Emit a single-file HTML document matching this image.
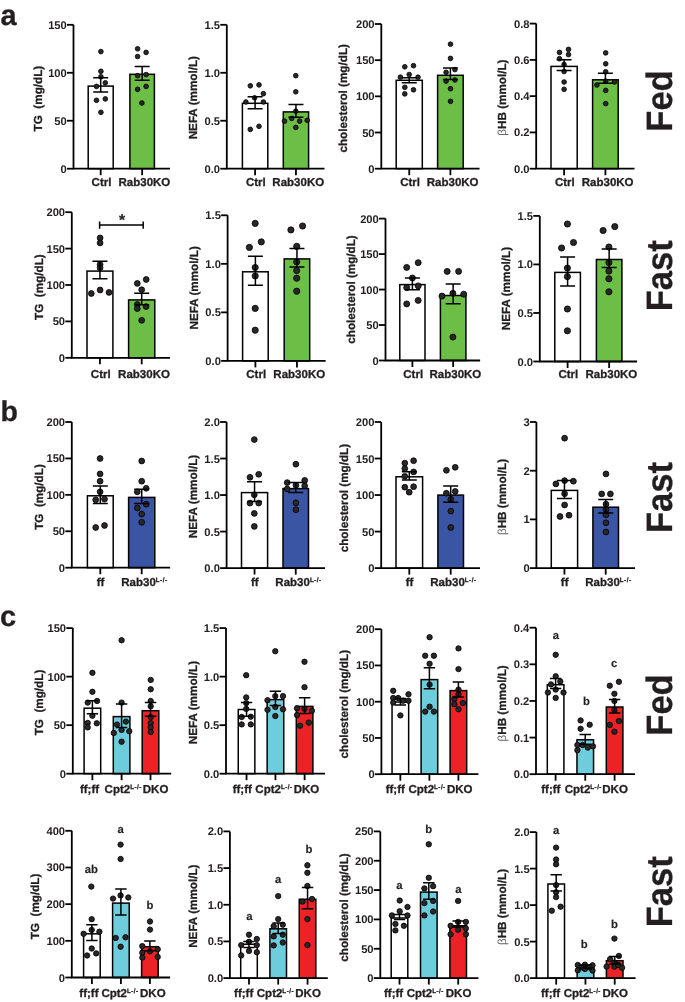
<!DOCTYPE html>
<html><head><meta charset="utf-8"><style>
html,body{margin:0;padding:0;background:#fff;}
svg{display:block;font-family:"Liberation Sans", sans-serif;text-rendering:geometricPrecision;will-change:transform;}
text{white-space:pre;stroke:#231f20;stroke-width:0.3px;}
</style></head><body>
<svg width="685" height="1002" viewBox="0 0 685 1002">
<rect width="685" height="1002" fill="#fff"/>
<rect x="88.2" y="86.1" width="25" height="82.6" fill="#ffffff" stroke="#000" stroke-width="1.5"/>
<rect x="129.9" y="74.3" width="24.5" height="94.4" fill="#6dbe46" stroke="#000" stroke-width="1.5"/>
<circle cx="100.9" cy="51.6" r="2.35" fill="#2b2627" stroke="#000" stroke-width="0.8"/>
<circle cx="100.9" cy="71.3" r="2.35" fill="#2b2627" stroke="#000" stroke-width="0.8"/>
<circle cx="100.9" cy="76.8" r="2.35" fill="#2b2627" stroke="#000" stroke-width="0.8"/>
<circle cx="105.3" cy="82.8" r="2.35" fill="#2b2627" stroke="#000" stroke-width="0.8"/>
<circle cx="96.5" cy="86.4" r="2.35" fill="#2b2627" stroke="#000" stroke-width="0.8"/>
<circle cx="96.5" cy="100.3" r="2.35" fill="#2b2627" stroke="#000" stroke-width="0.8"/>
<circle cx="105.3" cy="98.9" r="2.35" fill="#2b2627" stroke="#000" stroke-width="0.8"/>
<circle cx="100.9" cy="112.3" r="2.35" fill="#2b2627" stroke="#000" stroke-width="0.8"/>
<circle cx="137.6" cy="48.8" r="2.35" fill="#2b2627" stroke="#000" stroke-width="0.8"/>
<circle cx="146.1" cy="52.4" r="2.35" fill="#2b2627" stroke="#000" stroke-width="0.8"/>
<circle cx="137.6" cy="56.5" r="2.35" fill="#2b2627" stroke="#000" stroke-width="0.8"/>
<circle cx="137.6" cy="75.7" r="2.35" fill="#2b2627" stroke="#000" stroke-width="0.8"/>
<circle cx="146.1" cy="74.6" r="2.35" fill="#2b2627" stroke="#000" stroke-width="0.8"/>
<circle cx="146.1" cy="86.4" r="2.35" fill="#2b2627" stroke="#000" stroke-width="0.8"/>
<circle cx="137.6" cy="89.3" r="2.35" fill="#2b2627" stroke="#000" stroke-width="0.8"/>
<circle cx="141.9" cy="103" r="2.35" fill="#2b2627" stroke="#000" stroke-width="0.8"/>
<path d="M100.7 77.8V92.1M93.2 77.8H108.2M93.2 92.1H108.2" stroke="#000" stroke-width="1.5" fill="none"/>
<path d="M142.15 66.4V80.3M134.65 66.4H149.65M134.65 80.3H149.65" stroke="#000" stroke-width="1.5" fill="none"/>
<path d="M73.5 24.8V168.7H170" stroke="#000" stroke-width="1.8" fill="none"/>
<path d="M67 168.7H73.5" stroke="#000" stroke-width="1.8"/>
<text x="66.8" y="172.71" text-anchor="end" font-size="11.2" font-weight="bold" fill="#231f20" style="stroke:none">0</text>
<path d="M67 120.73H73.5" stroke="#000" stroke-width="1.8"/>
<text x="66.8" y="124.74" text-anchor="end" font-size="11.2" font-weight="bold" fill="#231f20" style="stroke:none">50</text>
<path d="M67 72.77H73.5" stroke="#000" stroke-width="1.8"/>
<text x="66.8" y="76.78" text-anchor="end" font-size="11.2" font-weight="bold" fill="#231f20" style="stroke:none">100</text>
<path d="M67 24.8H73.5" stroke="#000" stroke-width="1.8"/>
<text x="66.8" y="28.81" text-anchor="end" font-size="11.2" font-weight="bold" fill="#231f20" style="stroke:none">150</text>
<path d="M100.7 168.7V175.2" stroke="#000" stroke-width="1.8"/>
<path d="M142.15 168.7V175.2" stroke="#000" stroke-width="1.8"/>
<text x="101.5" y="186" text-anchor="middle" font-size="11.5" font-weight="bold" fill="#231f20">Ctrl</text>
<text x="144.45" y="186" text-anchor="middle" font-size="11.5" font-weight="bold" fill="#231f20">Rab30KO</text>
<text transform="translate(42.3 98.6) rotate(-90)" text-anchor="middle" font-size="11.7" font-weight="bold" fill="#231f20">TG&#160; (mg/dL)</text>
<rect x="242.4" y="103.3" width="25.4" height="65.4" fill="#ffffff" stroke="#000" stroke-width="1.5"/>
<rect x="283.3" y="111.9" width="25.3" height="56.8" fill="#6dbe46" stroke="#000" stroke-width="1.5"/>
<circle cx="250.3" cy="85.8" r="2.35" fill="#2b2627" stroke="#000" stroke-width="0.8"/>
<circle cx="259" cy="84.9" r="2.35" fill="#2b2627" stroke="#000" stroke-width="0.8"/>
<circle cx="263.4" cy="93.7" r="2.35" fill="#2b2627" stroke="#000" stroke-width="0.8"/>
<circle cx="254.6" cy="97.8" r="2.35" fill="#2b2627" stroke="#000" stroke-width="0.8"/>
<circle cx="245.9" cy="102" r="2.35" fill="#2b2627" stroke="#000" stroke-width="0.8"/>
<circle cx="263.4" cy="102" r="2.35" fill="#2b2627" stroke="#000" stroke-width="0.8"/>
<circle cx="250.3" cy="129.4" r="2.35" fill="#2b2627" stroke="#000" stroke-width="0.8"/>
<circle cx="259" cy="126.3" r="2.35" fill="#2b2627" stroke="#000" stroke-width="0.8"/>
<circle cx="295.8" cy="75.7" r="2.35" fill="#2b2627" stroke="#000" stroke-width="0.8"/>
<circle cx="295.8" cy="91.8" r="2.35" fill="#2b2627" stroke="#000" stroke-width="0.8"/>
<circle cx="295.8" cy="111.2" r="2.35" fill="#2b2627" stroke="#000" stroke-width="0.8"/>
<circle cx="291.7" cy="118.4" r="2.35" fill="#2b2627" stroke="#000" stroke-width="0.8"/>
<circle cx="299.6" cy="121.1" r="2.35" fill="#2b2627" stroke="#000" stroke-width="0.8"/>
<circle cx="284.5" cy="121.1" r="2.35" fill="#2b2627" stroke="#000" stroke-width="0.8"/>
<circle cx="307.2" cy="120.3" r="2.35" fill="#2b2627" stroke="#000" stroke-width="0.8"/>
<circle cx="295.8" cy="127.4" r="2.35" fill="#2b2627" stroke="#000" stroke-width="0.8"/>
<path d="M255.1 96.8V108.8M247.6 96.8H262.6M247.6 108.8H262.6" stroke="#000" stroke-width="1.5" fill="none"/>
<path d="M295.95 104.4V117.3M288.45 104.4H303.45M288.45 117.3H303.45" stroke="#000" stroke-width="1.5" fill="none"/>
<path d="M226.8 24.8V168.7H324.5" stroke="#000" stroke-width="1.8" fill="none"/>
<path d="M220.3 168.7H226.8" stroke="#000" stroke-width="1.8"/>
<text x="220.1" y="172.71" text-anchor="end" font-size="11.2" font-weight="bold" fill="#231f20" style="stroke:none">0.0</text>
<path d="M220.3 120.73H226.8" stroke="#000" stroke-width="1.8"/>
<text x="220.1" y="124.74" text-anchor="end" font-size="11.2" font-weight="bold" fill="#231f20" style="stroke:none">0.5</text>
<path d="M220.3 72.77H226.8" stroke="#000" stroke-width="1.8"/>
<text x="220.1" y="76.78" text-anchor="end" font-size="11.2" font-weight="bold" fill="#231f20" style="stroke:none">1.0</text>
<path d="M220.3 24.8H226.8" stroke="#000" stroke-width="1.8"/>
<text x="220.1" y="28.81" text-anchor="end" font-size="11.2" font-weight="bold" fill="#231f20" style="stroke:none">1.5</text>
<path d="M255.1 168.7V175.2" stroke="#000" stroke-width="1.8"/>
<path d="M295.95 168.7V175.2" stroke="#000" stroke-width="1.8"/>
<text x="255.9" y="186" text-anchor="middle" font-size="11.5" font-weight="bold" fill="#231f20">Ctrl</text>
<text x="298.25" y="186" text-anchor="middle" font-size="11.5" font-weight="bold" fill="#231f20">Rab30KO</text>
<text transform="translate(196.7 97.7) rotate(-90)" text-anchor="middle" font-size="11.7" font-weight="bold" fill="#231f20">NEFA (mmol/L)</text>
<rect x="396.2" y="80.3" width="26.1" height="88.4" fill="#ffffff" stroke="#000" stroke-width="1.5"/>
<rect x="437.6" y="75.3" width="25.6" height="93.4" fill="#6dbe46" stroke="#000" stroke-width="1.5"/>
<circle cx="404.8" cy="66.8" r="2.35" fill="#2b2627" stroke="#000" stroke-width="0.8"/>
<circle cx="413.5" cy="65.7" r="2.35" fill="#2b2627" stroke="#000" stroke-width="0.8"/>
<circle cx="409.2" cy="74.5" r="2.35" fill="#2b2627" stroke="#000" stroke-width="0.8"/>
<circle cx="400.4" cy="77.2" r="2.35" fill="#2b2627" stroke="#000" stroke-width="0.8"/>
<circle cx="418" cy="77.2" r="2.35" fill="#2b2627" stroke="#000" stroke-width="0.8"/>
<circle cx="404.8" cy="87.3" r="2.35" fill="#2b2627" stroke="#000" stroke-width="0.8"/>
<circle cx="413.5" cy="89.8" r="2.35" fill="#2b2627" stroke="#000" stroke-width="0.8"/>
<circle cx="404.8" cy="93.9" r="2.35" fill="#2b2627" stroke="#000" stroke-width="0.8"/>
<circle cx="450.5" cy="44.2" r="2.35" fill="#2b2627" stroke="#000" stroke-width="0.8"/>
<circle cx="450.5" cy="58.4" r="2.35" fill="#2b2627" stroke="#000" stroke-width="0.8"/>
<circle cx="454.9" cy="69.6" r="2.35" fill="#2b2627" stroke="#000" stroke-width="0.8"/>
<circle cx="446.1" cy="72.3" r="2.35" fill="#2b2627" stroke="#000" stroke-width="0.8"/>
<circle cx="446.1" cy="81.1" r="2.35" fill="#2b2627" stroke="#000" stroke-width="0.8"/>
<circle cx="454.9" cy="80" r="2.35" fill="#2b2627" stroke="#000" stroke-width="0.8"/>
<circle cx="450.5" cy="88.7" r="2.35" fill="#2b2627" stroke="#000" stroke-width="0.8"/>
<circle cx="450.5" cy="101.3" r="2.35" fill="#2b2627" stroke="#000" stroke-width="0.8"/>
<path d="M409.25 77.8V82.7M401.75 77.8H416.75M401.75 82.7H416.75" stroke="#000" stroke-width="1.5" fill="none"/>
<path d="M450.4 67.9V79.6M442.9 67.9H457.9M442.9 79.6H457.9" stroke="#000" stroke-width="1.5" fill="none"/>
<path d="M381.3 24V168.7H479.5" stroke="#000" stroke-width="1.8" fill="none"/>
<path d="M374.8 168.7H381.3" stroke="#000" stroke-width="1.8"/>
<text x="374.6" y="172.71" text-anchor="end" font-size="11.2" font-weight="bold" fill="#231f20" style="stroke:none">0</text>
<path d="M374.8 132.52H381.3" stroke="#000" stroke-width="1.8"/>
<text x="374.6" y="136.53" text-anchor="end" font-size="11.2" font-weight="bold" fill="#231f20" style="stroke:none">50</text>
<path d="M374.8 96.35H381.3" stroke="#000" stroke-width="1.8"/>
<text x="374.6" y="100.36" text-anchor="end" font-size="11.2" font-weight="bold" fill="#231f20" style="stroke:none">100</text>
<path d="M374.8 60.17H381.3" stroke="#000" stroke-width="1.8"/>
<text x="374.6" y="64.18" text-anchor="end" font-size="11.2" font-weight="bold" fill="#231f20" style="stroke:none">150</text>
<path d="M374.8 24H381.3" stroke="#000" stroke-width="1.8"/>
<text x="374.6" y="28.01" text-anchor="end" font-size="11.2" font-weight="bold" fill="#231f20" style="stroke:none">200</text>
<path d="M409.25 168.7V175.2" stroke="#000" stroke-width="1.8"/>
<path d="M450.4 168.7V175.2" stroke="#000" stroke-width="1.8"/>
<text x="410.05" y="186" text-anchor="middle" font-size="11.5" font-weight="bold" fill="#231f20">Ctrl</text>
<text x="452.7" y="186" text-anchor="middle" font-size="11.5" font-weight="bold" fill="#231f20">Rab30KO</text>
<text transform="translate(346.9 98.3) rotate(-90)" text-anchor="middle" font-size="11.7" font-weight="bold" fill="#231f20">cholesterol (mg/dL)</text>
<rect x="551" y="66.4" width="26.2" height="102.3" fill="#ffffff" stroke="#000" stroke-width="1.5"/>
<rect x="592.6" y="79.8" width="25.6" height="88.9" fill="#6dbe46" stroke="#000" stroke-width="1.5"/>
<circle cx="559.5" cy="52.4" r="2.35" fill="#2b2627" stroke="#000" stroke-width="0.8"/>
<circle cx="568.5" cy="49.4" r="2.35" fill="#2b2627" stroke="#000" stroke-width="0.8"/>
<circle cx="568.5" cy="54.6" r="2.35" fill="#2b2627" stroke="#000" stroke-width="0.8"/>
<circle cx="559.5" cy="58.7" r="2.35" fill="#2b2627" stroke="#000" stroke-width="0.8"/>
<circle cx="564.1" cy="64.5" r="2.35" fill="#2b2627" stroke="#000" stroke-width="0.8"/>
<circle cx="564.1" cy="71.5" r="2.35" fill="#2b2627" stroke="#000" stroke-width="0.8"/>
<circle cx="564.1" cy="82" r="2.35" fill="#2b2627" stroke="#000" stroke-width="0.8"/>
<circle cx="564.1" cy="89.3" r="2.35" fill="#2b2627" stroke="#000" stroke-width="0.8"/>
<circle cx="605.7" cy="52.9" r="2.35" fill="#2b2627" stroke="#000" stroke-width="0.8"/>
<circle cx="605.7" cy="63.8" r="2.35" fill="#2b2627" stroke="#000" stroke-width="0.8"/>
<circle cx="605.7" cy="71.8" r="2.35" fill="#2b2627" stroke="#000" stroke-width="0.8"/>
<circle cx="605.7" cy="81.1" r="2.35" fill="#2b2627" stroke="#000" stroke-width="0.8"/>
<circle cx="614.5" cy="82" r="2.35" fill="#2b2627" stroke="#000" stroke-width="0.8"/>
<circle cx="596.9" cy="85" r="2.35" fill="#2b2627" stroke="#000" stroke-width="0.8"/>
<circle cx="605.7" cy="90.4" r="2.35" fill="#2b2627" stroke="#000" stroke-width="0.8"/>
<circle cx="605.7" cy="103.6" r="2.35" fill="#2b2627" stroke="#000" stroke-width="0.8"/>
<path d="M564.1 59.8V70.4M556.6 59.8H571.6M556.6 70.4H571.6" stroke="#000" stroke-width="1.5" fill="none"/>
<path d="M605.4 73.2V83.3M597.9 73.2H612.9M597.9 83.3H612.9" stroke="#000" stroke-width="1.5" fill="none"/>
<path d="M536.2 23.6V168.7H634.5" stroke="#000" stroke-width="1.8" fill="none"/>
<path d="M529.7 168.7H536.2" stroke="#000" stroke-width="1.8"/>
<text x="529.5" y="172.71" text-anchor="end" font-size="11.2" font-weight="bold" fill="#231f20" style="stroke:none">0.0</text>
<path d="M529.7 132.42H536.2" stroke="#000" stroke-width="1.8"/>
<text x="529.5" y="136.43" text-anchor="end" font-size="11.2" font-weight="bold" fill="#231f20" style="stroke:none">0.2</text>
<path d="M529.7 96.15H536.2" stroke="#000" stroke-width="1.8"/>
<text x="529.5" y="100.16" text-anchor="end" font-size="11.2" font-weight="bold" fill="#231f20" style="stroke:none">0.4</text>
<path d="M529.7 59.88H536.2" stroke="#000" stroke-width="1.8"/>
<text x="529.5" y="63.88" text-anchor="end" font-size="11.2" font-weight="bold" fill="#231f20" style="stroke:none">0.6</text>
<path d="M529.7 23.6H536.2" stroke="#000" stroke-width="1.8"/>
<text x="529.5" y="27.61" text-anchor="end" font-size="11.2" font-weight="bold" fill="#231f20" style="stroke:none">0.8</text>
<path d="M564.1 168.7V175.2" stroke="#000" stroke-width="1.8"/>
<path d="M605.4 168.7V175.2" stroke="#000" stroke-width="1.8"/>
<text x="564.9" y="186" text-anchor="middle" font-size="11.5" font-weight="bold" fill="#231f20">Ctrl</text>
<text x="607.7" y="186" text-anchor="middle" font-size="11.5" font-weight="bold" fill="#231f20">Rab30KO</text>
<text transform="translate(505.9 97.6) rotate(-90)" text-anchor="middle" font-size="11.7" font-weight="bold" fill="#231f20"><tspan font-weight="normal" fill="#666" style="stroke:none">β</tspan>HB (mmol/L)</text>
<rect x="87" y="271.1" width="25.9" height="86.7" fill="#ffffff" stroke="#000" stroke-width="1.5"/>
<rect x="128.6" y="299.9" width="26.2" height="57.9" fill="#6dbe46" stroke="#000" stroke-width="1.5"/>
<circle cx="100.1" cy="237.9" r="2.9" fill="#2b2627" stroke="#000" stroke-width="0.8"/>
<circle cx="100.1" cy="242.9" r="2.9" fill="#2b2627" stroke="#000" stroke-width="0.8"/>
<circle cx="100.1" cy="264.5" r="2.9" fill="#2b2627" stroke="#000" stroke-width="0.8"/>
<circle cx="100.1" cy="267.8" r="2.9" fill="#2b2627" stroke="#000" stroke-width="0.8"/>
<circle cx="100.1" cy="290" r="2.9" fill="#2b2627" stroke="#000" stroke-width="0.8"/>
<circle cx="91.3" cy="293.5" r="2.9" fill="#2b2627" stroke="#000" stroke-width="0.8"/>
<circle cx="109" cy="292.4" r="2.9" fill="#2b2627" stroke="#000" stroke-width="0.8"/>
<circle cx="146.2" cy="279.5" r="2.9" fill="#2b2627" stroke="#000" stroke-width="0.8"/>
<circle cx="137.3" cy="283.4" r="2.9" fill="#2b2627" stroke="#000" stroke-width="0.8"/>
<circle cx="141.7" cy="289.7" r="2.9" fill="#2b2627" stroke="#000" stroke-width="0.8"/>
<circle cx="137.3" cy="304.5" r="2.9" fill="#2b2627" stroke="#000" stroke-width="0.8"/>
<circle cx="137.3" cy="308.6" r="2.9" fill="#2b2627" stroke="#000" stroke-width="0.8"/>
<circle cx="146.1" cy="306.6" r="2.9" fill="#2b2627" stroke="#000" stroke-width="0.8"/>
<circle cx="141.7" cy="320.3" r="2.9" fill="#2b2627" stroke="#000" stroke-width="0.8"/>
<path d="M99.95 261.2V278.7M92.45 261.2H107.45M92.45 278.7H107.45" stroke="#000" stroke-width="1.5" fill="none"/>
<path d="M141.7 293.3V304.8M134.2 293.3H149.2M134.2 304.8H149.2" stroke="#000" stroke-width="1.5" fill="none"/>
<path d="M71.8 212.2V357.8H170" stroke="#000" stroke-width="1.8" fill="none"/>
<path d="M65.3 357.8H71.8" stroke="#000" stroke-width="1.8"/>
<text x="65.1" y="361.81" text-anchor="end" font-size="11.2" font-weight="bold" fill="#231f20" style="stroke:none">0</text>
<path d="M65.3 321.4H71.8" stroke="#000" stroke-width="1.8"/>
<text x="65.1" y="325.41" text-anchor="end" font-size="11.2" font-weight="bold" fill="#231f20" style="stroke:none">50</text>
<path d="M65.3 285H71.8" stroke="#000" stroke-width="1.8"/>
<text x="65.1" y="289.01" text-anchor="end" font-size="11.2" font-weight="bold" fill="#231f20" style="stroke:none">100</text>
<path d="M65.3 248.6H71.8" stroke="#000" stroke-width="1.8"/>
<text x="65.1" y="252.61" text-anchor="end" font-size="11.2" font-weight="bold" fill="#231f20" style="stroke:none">150</text>
<path d="M65.3 212.2H71.8" stroke="#000" stroke-width="1.8"/>
<text x="65.1" y="216.21" text-anchor="end" font-size="11.2" font-weight="bold" fill="#231f20" style="stroke:none">200</text>
<path d="M99.95 357.8V364.3" stroke="#000" stroke-width="1.8"/>
<path d="M141.7 357.8V364.3" stroke="#000" stroke-width="1.8"/>
<text x="100.75" y="378" text-anchor="middle" font-size="11.5" font-weight="bold" fill="#231f20">Ctrl</text>
<text x="144" y="378" text-anchor="middle" font-size="11.5" font-weight="bold" fill="#231f20">Rab30KO</text>
<text transform="translate(42.8 287.1) rotate(-90)" text-anchor="middle" font-size="11.7" font-weight="bold" fill="#231f20">TG&#160; (mg/dL)</text>
<path d="M99.6 225.1H143.2M99.6 221.4V228.8M143.2 221.4V228.8" stroke="#000" stroke-width="1.5" fill="none"/>
<text x="122.1" y="225.3" text-anchor="middle" font-size="15.5" font-weight="bold" fill="#231f20">*</text>
<rect x="242.6" y="271.8" width="25.6" height="89.1" fill="#ffffff" stroke="#000" stroke-width="1.5"/>
<rect x="284.2" y="258.9" width="25.5" height="102" fill="#6dbe46" stroke="#000" stroke-width="1.5"/>
<circle cx="255.2" cy="223.4" r="3.1" fill="#2b2627" stroke="#000" stroke-width="0.8"/>
<circle cx="261.3" cy="241.9" r="3.1" fill="#2b2627" stroke="#000" stroke-width="0.8"/>
<circle cx="249.4" cy="247.4" r="3.1" fill="#2b2627" stroke="#000" stroke-width="0.8"/>
<circle cx="255.2" cy="267.5" r="3.1" fill="#2b2627" stroke="#000" stroke-width="0.8"/>
<circle cx="255.2" cy="276" r="3.1" fill="#2b2627" stroke="#000" stroke-width="0.8"/>
<circle cx="255.2" cy="308.4" r="3.1" fill="#2b2627" stroke="#000" stroke-width="0.8"/>
<circle cx="255.2" cy="330.2" r="3.1" fill="#2b2627" stroke="#000" stroke-width="0.8"/>
<circle cx="302.6" cy="226" r="3.1" fill="#2b2627" stroke="#000" stroke-width="0.8"/>
<circle cx="290.9" cy="229.9" r="3.1" fill="#2b2627" stroke="#000" stroke-width="0.8"/>
<circle cx="296.7" cy="246.4" r="3.1" fill="#2b2627" stroke="#000" stroke-width="0.8"/>
<circle cx="296.7" cy="262" r="3.1" fill="#2b2627" stroke="#000" stroke-width="0.8"/>
<circle cx="296.7" cy="270.5" r="3.1" fill="#2b2627" stroke="#000" stroke-width="0.8"/>
<circle cx="296.7" cy="278.2" r="3.1" fill="#2b2627" stroke="#000" stroke-width="0.8"/>
<circle cx="296.7" cy="291.2" r="3.1" fill="#2b2627" stroke="#000" stroke-width="0.8"/>
<path d="M255.4 256.3V285.3M247.9 256.3H262.9M247.9 285.3H262.9" stroke="#000" stroke-width="1.5" fill="none"/>
<path d="M296.95 248.5V266.9M289.45 248.5H304.45M289.45 266.9H304.45" stroke="#000" stroke-width="1.5" fill="none"/>
<path d="M227.6 215.3V360.9H325.6" stroke="#000" stroke-width="1.8" fill="none"/>
<path d="M221.1 360.9H227.6" stroke="#000" stroke-width="1.8"/>
<text x="220.9" y="364.91" text-anchor="end" font-size="11.2" font-weight="bold" fill="#231f20" style="stroke:none">0.0</text>
<path d="M221.1 312.37H227.6" stroke="#000" stroke-width="1.8"/>
<text x="220.9" y="316.38" text-anchor="end" font-size="11.2" font-weight="bold" fill="#231f20" style="stroke:none">0.5</text>
<path d="M221.1 263.83H227.6" stroke="#000" stroke-width="1.8"/>
<text x="220.9" y="267.84" text-anchor="end" font-size="11.2" font-weight="bold" fill="#231f20" style="stroke:none">1.0</text>
<path d="M221.1 215.3H227.6" stroke="#000" stroke-width="1.8"/>
<text x="220.9" y="219.31" text-anchor="end" font-size="11.2" font-weight="bold" fill="#231f20" style="stroke:none">1.5</text>
<path d="M255.4 360.9V367.4" stroke="#000" stroke-width="1.8"/>
<path d="M296.95 360.9V367.4" stroke="#000" stroke-width="1.8"/>
<text x="256.2" y="378" text-anchor="middle" font-size="11.5" font-weight="bold" fill="#231f20">Ctrl</text>
<text x="299.25" y="378" text-anchor="middle" font-size="11.5" font-weight="bold" fill="#231f20">Rab30KO</text>
<text transform="translate(197.8 287.9) rotate(-90)" text-anchor="middle" font-size="11.7" font-weight="bold" fill="#231f20">NEFA (mmol/L)</text>
<rect x="399.8" y="284.6" width="25.2" height="75.9" fill="#ffffff" stroke="#000" stroke-width="1.5"/>
<rect x="440.4" y="295.5" width="25.5" height="65" fill="#6dbe46" stroke="#000" stroke-width="1.5"/>
<circle cx="418.2" cy="262.7" r="3" fill="#2b2627" stroke="#000" stroke-width="0.8"/>
<circle cx="406.7" cy="267.4" r="3" fill="#2b2627" stroke="#000" stroke-width="0.8"/>
<circle cx="412.4" cy="278" r="3" fill="#2b2627" stroke="#000" stroke-width="0.8"/>
<circle cx="406.7" cy="287.6" r="3" fill="#2b2627" stroke="#000" stroke-width="0.8"/>
<circle cx="418.2" cy="285.9" r="3" fill="#2b2627" stroke="#000" stroke-width="0.8"/>
<circle cx="418.2" cy="300.4" r="3" fill="#2b2627" stroke="#000" stroke-width="0.8"/>
<circle cx="406.7" cy="303.9" r="3" fill="#2b2627" stroke="#000" stroke-width="0.8"/>
<circle cx="447.2" cy="271.4" r="3" fill="#2b2627" stroke="#000" stroke-width="0.8"/>
<circle cx="458.6" cy="271.4" r="3" fill="#2b2627" stroke="#000" stroke-width="0.8"/>
<circle cx="452.9" cy="293.3" r="3" fill="#2b2627" stroke="#000" stroke-width="0.8"/>
<circle cx="442" cy="296.1" r="3" fill="#2b2627" stroke="#000" stroke-width="0.8"/>
<circle cx="463.7" cy="294.2" r="3" fill="#2b2627" stroke="#000" stroke-width="0.8"/>
<circle cx="452.9" cy="337.1" r="3" fill="#2b2627" stroke="#000" stroke-width="0.8"/>
<path d="M412.4 278V289.8M404.9 278H419.9M404.9 289.8H419.9" stroke="#000" stroke-width="1.5" fill="none"/>
<path d="M453.15 284V303.7M445.65 284H460.65M445.65 303.7H460.65" stroke="#000" stroke-width="1.5" fill="none"/>
<path d="M385.5 218.6V360.5H480.1" stroke="#000" stroke-width="1.8" fill="none"/>
<path d="M379 360.5H385.5" stroke="#000" stroke-width="1.8"/>
<text x="378.8" y="364.51" text-anchor="end" font-size="11.2" font-weight="bold" fill="#231f20" style="stroke:none">0</text>
<path d="M379 325.02H385.5" stroke="#000" stroke-width="1.8"/>
<text x="378.8" y="329.03" text-anchor="end" font-size="11.2" font-weight="bold" fill="#231f20" style="stroke:none">50</text>
<path d="M379 289.55H385.5" stroke="#000" stroke-width="1.8"/>
<text x="378.8" y="293.56" text-anchor="end" font-size="11.2" font-weight="bold" fill="#231f20" style="stroke:none">100</text>
<path d="M379 254.07H385.5" stroke="#000" stroke-width="1.8"/>
<text x="378.8" y="258.08" text-anchor="end" font-size="11.2" font-weight="bold" fill="#231f20" style="stroke:none">150</text>
<path d="M379 218.6H385.5" stroke="#000" stroke-width="1.8"/>
<text x="378.8" y="222.61" text-anchor="end" font-size="11.2" font-weight="bold" fill="#231f20" style="stroke:none">200</text>
<path d="M412.4 360.5V367" stroke="#000" stroke-width="1.8"/>
<path d="M453.15 360.5V367" stroke="#000" stroke-width="1.8"/>
<text x="413.2" y="378" text-anchor="middle" font-size="11.5" font-weight="bold" fill="#231f20">Ctrl</text>
<text x="455.45" y="378" text-anchor="middle" font-size="11.5" font-weight="bold" fill="#231f20">Rab30KO</text>
<text transform="translate(354.5 289.5) rotate(-90)" text-anchor="middle" font-size="11.7" font-weight="bold" fill="#231f20">cholesterol (mg/dL)</text>
<rect x="554.8" y="272.4" width="25.6" height="89.1" fill="#ffffff" stroke="#000" stroke-width="1.5"/>
<rect x="596.4" y="259.5" width="25.5" height="102" fill="#6dbe46" stroke="#000" stroke-width="1.5"/>
<circle cx="567.4" cy="224" r="3.1" fill="#2b2627" stroke="#000" stroke-width="0.8"/>
<circle cx="573.5" cy="242.5" r="3.1" fill="#2b2627" stroke="#000" stroke-width="0.8"/>
<circle cx="561.6" cy="248" r="3.1" fill="#2b2627" stroke="#000" stroke-width="0.8"/>
<circle cx="567.4" cy="268.1" r="3.1" fill="#2b2627" stroke="#000" stroke-width="0.8"/>
<circle cx="567.4" cy="276.6" r="3.1" fill="#2b2627" stroke="#000" stroke-width="0.8"/>
<circle cx="567.4" cy="309" r="3.1" fill="#2b2627" stroke="#000" stroke-width="0.8"/>
<circle cx="567.4" cy="330.8" r="3.1" fill="#2b2627" stroke="#000" stroke-width="0.8"/>
<circle cx="614.8" cy="226.6" r="3.1" fill="#2b2627" stroke="#000" stroke-width="0.8"/>
<circle cx="603.1" cy="230.5" r="3.1" fill="#2b2627" stroke="#000" stroke-width="0.8"/>
<circle cx="608.9" cy="247" r="3.1" fill="#2b2627" stroke="#000" stroke-width="0.8"/>
<circle cx="608.9" cy="262.6" r="3.1" fill="#2b2627" stroke="#000" stroke-width="0.8"/>
<circle cx="608.9" cy="271.1" r="3.1" fill="#2b2627" stroke="#000" stroke-width="0.8"/>
<circle cx="608.9" cy="278.8" r="3.1" fill="#2b2627" stroke="#000" stroke-width="0.8"/>
<circle cx="608.9" cy="291.8" r="3.1" fill="#2b2627" stroke="#000" stroke-width="0.8"/>
<path d="M567.6 256.9V285.9M560.1 256.9H575.1M560.1 285.9H575.1" stroke="#000" stroke-width="1.5" fill="none"/>
<path d="M609.15 249.1V267.5M601.65 249.1H616.65M601.65 267.5H616.65" stroke="#000" stroke-width="1.5" fill="none"/>
<path d="M539.8 215.9V361.5H637.1" stroke="#000" stroke-width="1.8" fill="none"/>
<path d="M533.3 361.5H539.8" stroke="#000" stroke-width="1.8"/>
<text x="533.1" y="365.51" text-anchor="end" font-size="11.2" font-weight="bold" fill="#231f20" style="stroke:none">0.0</text>
<path d="M533.3 312.97H539.8" stroke="#000" stroke-width="1.8"/>
<text x="533.1" y="316.98" text-anchor="end" font-size="11.2" font-weight="bold" fill="#231f20" style="stroke:none">0.5</text>
<path d="M533.3 264.43H539.8" stroke="#000" stroke-width="1.8"/>
<text x="533.1" y="268.44" text-anchor="end" font-size="11.2" font-weight="bold" fill="#231f20" style="stroke:none">1.0</text>
<path d="M533.3 215.9H539.8" stroke="#000" stroke-width="1.8"/>
<text x="533.1" y="219.91" text-anchor="end" font-size="11.2" font-weight="bold" fill="#231f20" style="stroke:none">1.5</text>
<path d="M567.6 361.5V368" stroke="#000" stroke-width="1.8"/>
<path d="M609.15 361.5V368" stroke="#000" stroke-width="1.8"/>
<text x="568.4" y="378" text-anchor="middle" font-size="11.5" font-weight="bold" fill="#231f20">Ctrl</text>
<text x="611.45" y="378" text-anchor="middle" font-size="11.5" font-weight="bold" fill="#231f20">Rab30KO</text>
<text transform="translate(510 288.6) rotate(-90)" text-anchor="middle" font-size="11.7" font-weight="bold" fill="#231f20">NEFA (mmol/L)</text>
<rect x="87.4" y="495.8" width="25.8" height="71.9" fill="#ffffff" stroke="#000" stroke-width="1.5"/>
<rect x="128.6" y="497.4" width="26.2" height="70.3" fill="#3a55a4" stroke="#000" stroke-width="1.5"/>
<circle cx="100.1" cy="458.5" r="2.9" fill="#2b2627" stroke="#000" stroke-width="0.8"/>
<circle cx="100.1" cy="473.9" r="2.9" fill="#2b2627" stroke="#000" stroke-width="0.8"/>
<circle cx="100.1" cy="481.2" r="2.9" fill="#2b2627" stroke="#000" stroke-width="0.8"/>
<circle cx="100.1" cy="491.8" r="2.9" fill="#2b2627" stroke="#000" stroke-width="0.8"/>
<circle cx="95.7" cy="499.8" r="2.9" fill="#2b2627" stroke="#000" stroke-width="0.8"/>
<circle cx="104.5" cy="499.1" r="2.9" fill="#2b2627" stroke="#000" stroke-width="0.8"/>
<circle cx="95.7" cy="527.5" r="2.9" fill="#2b2627" stroke="#000" stroke-width="0.8"/>
<circle cx="104.5" cy="525.5" r="2.9" fill="#2b2627" stroke="#000" stroke-width="0.8"/>
<circle cx="141.7" cy="461" r="2.9" fill="#2b2627" stroke="#000" stroke-width="0.8"/>
<circle cx="141.7" cy="481.2" r="2.9" fill="#2b2627" stroke="#000" stroke-width="0.8"/>
<circle cx="146.2" cy="488.3" r="2.9" fill="#2b2627" stroke="#000" stroke-width="0.8"/>
<circle cx="137.3" cy="491.8" r="2.9" fill="#2b2627" stroke="#000" stroke-width="0.8"/>
<circle cx="146.2" cy="504.2" r="2.9" fill="#2b2627" stroke="#000" stroke-width="0.8"/>
<circle cx="137.3" cy="508" r="2.9" fill="#2b2627" stroke="#000" stroke-width="0.8"/>
<circle cx="141.7" cy="514.1" r="2.9" fill="#2b2627" stroke="#000" stroke-width="0.8"/>
<circle cx="141.7" cy="522.3" r="2.9" fill="#2b2627" stroke="#000" stroke-width="0.8"/>
<path d="M100.3 486.1V503.4M92.8 486.1H107.8M92.8 503.4H107.8" stroke="#000" stroke-width="1.5" fill="none"/>
<path d="M141.7 489.2V503.4M134.2 489.2H149.2M134.2 503.4H149.2" stroke="#000" stroke-width="1.5" fill="none"/>
<path d="M71.8 422V567.7H170.1" stroke="#000" stroke-width="1.8" fill="none"/>
<path d="M65.3 567.7H71.8" stroke="#000" stroke-width="1.8"/>
<text x="65.1" y="571.71" text-anchor="end" font-size="11.2" font-weight="bold" fill="#231f20" style="stroke:none">0</text>
<path d="M65.3 531.28H71.8" stroke="#000" stroke-width="1.8"/>
<text x="65.1" y="535.28" text-anchor="end" font-size="11.2" font-weight="bold" fill="#231f20" style="stroke:none">50</text>
<path d="M65.3 494.85H71.8" stroke="#000" stroke-width="1.8"/>
<text x="65.1" y="498.86" text-anchor="end" font-size="11.2" font-weight="bold" fill="#231f20" style="stroke:none">100</text>
<path d="M65.3 458.43H71.8" stroke="#000" stroke-width="1.8"/>
<text x="65.1" y="462.43" text-anchor="end" font-size="11.2" font-weight="bold" fill="#231f20" style="stroke:none">150</text>
<path d="M65.3 422H71.8" stroke="#000" stroke-width="1.8"/>
<text x="65.1" y="426.01" text-anchor="end" font-size="11.2" font-weight="bold" fill="#231f20" style="stroke:none">200</text>
<path d="M100.3 567.7V574.2" stroke="#000" stroke-width="1.8"/>
<path d="M141.7 567.7V574.2" stroke="#000" stroke-width="1.8"/>
<text x="100.5" y="586" text-anchor="middle" font-size="11.5" font-weight="bold" fill="#231f20">ff</text>
<text x="121.3" y="586" text-anchor="start" font-size="11.5" font-weight="bold" fill="#231f20">Rab30<tspan font-size="6.2" dy="-3.9" letter-spacing="0.5">L-/-</tspan></text>
<text transform="translate(42.8 497) rotate(-90)" text-anchor="middle" font-size="11.7" font-weight="bold" fill="#231f20">TG&#160; (mg/dL)</text>
<rect x="241.5" y="492.6" width="26.1" height="75.5" fill="#ffffff" stroke="#000" stroke-width="1.5"/>
<rect x="283" y="488.6" width="25.5" height="79.5" fill="#3a55a4" stroke="#000" stroke-width="1.5"/>
<circle cx="254.3" cy="439.6" r="2.9" fill="#2b2627" stroke="#000" stroke-width="0.8"/>
<circle cx="258.7" cy="474.3" r="2.9" fill="#2b2627" stroke="#000" stroke-width="0.8"/>
<circle cx="250" cy="477.3" r="2.9" fill="#2b2627" stroke="#000" stroke-width="0.8"/>
<circle cx="254.3" cy="494.8" r="2.9" fill="#2b2627" stroke="#000" stroke-width="0.8"/>
<circle cx="250" cy="503.1" r="2.9" fill="#2b2627" stroke="#000" stroke-width="0.8"/>
<circle cx="258.7" cy="503.1" r="2.9" fill="#2b2627" stroke="#000" stroke-width="0.8"/>
<circle cx="254.3" cy="513.4" r="2.9" fill="#2b2627" stroke="#000" stroke-width="0.8"/>
<circle cx="254.3" cy="526.4" r="2.9" fill="#2b2627" stroke="#000" stroke-width="0.8"/>
<circle cx="295.9" cy="464.2" r="2.9" fill="#2b2627" stroke="#000" stroke-width="0.8"/>
<circle cx="287.2" cy="482.6" r="2.9" fill="#2b2627" stroke="#000" stroke-width="0.8"/>
<circle cx="304.7" cy="480.4" r="2.9" fill="#2b2627" stroke="#000" stroke-width="0.8"/>
<circle cx="295.9" cy="485.3" r="2.9" fill="#2b2627" stroke="#000" stroke-width="0.8"/>
<circle cx="287.2" cy="488.9" r="2.9" fill="#2b2627" stroke="#000" stroke-width="0.8"/>
<circle cx="304.7" cy="485.8" r="2.9" fill="#2b2627" stroke="#000" stroke-width="0.8"/>
<circle cx="295.9" cy="502.8" r="2.9" fill="#2b2627" stroke="#000" stroke-width="0.8"/>
<circle cx="295.9" cy="509.7" r="2.9" fill="#2b2627" stroke="#000" stroke-width="0.8"/>
<path d="M254.55 481.7V501.4M247.05 481.7H262.05M247.05 501.4H262.05" stroke="#000" stroke-width="1.5" fill="none"/>
<path d="M295.75 482.6V492.6M288.25 482.6H303.25M288.25 492.6H303.25" stroke="#000" stroke-width="1.5" fill="none"/>
<path d="M226.6 422V568.1H325" stroke="#000" stroke-width="1.8" fill="none"/>
<path d="M220.1 568.1H226.6" stroke="#000" stroke-width="1.8"/>
<text x="219.9" y="572.11" text-anchor="end" font-size="11.2" font-weight="bold" fill="#231f20" style="stroke:none">0.0</text>
<path d="M220.1 531.58H226.6" stroke="#000" stroke-width="1.8"/>
<text x="219.9" y="535.58" text-anchor="end" font-size="11.2" font-weight="bold" fill="#231f20" style="stroke:none">0.5</text>
<path d="M220.1 495.05H226.6" stroke="#000" stroke-width="1.8"/>
<text x="219.9" y="499.06" text-anchor="end" font-size="11.2" font-weight="bold" fill="#231f20" style="stroke:none">1.0</text>
<path d="M220.1 458.52H226.6" stroke="#000" stroke-width="1.8"/>
<text x="219.9" y="462.53" text-anchor="end" font-size="11.2" font-weight="bold" fill="#231f20" style="stroke:none">1.5</text>
<path d="M220.1 422H226.6" stroke="#000" stroke-width="1.8"/>
<text x="219.9" y="426.01" text-anchor="end" font-size="11.2" font-weight="bold" fill="#231f20" style="stroke:none">2.0</text>
<path d="M254.55 568.1V574.6" stroke="#000" stroke-width="1.8"/>
<path d="M295.75 568.1V574.6" stroke="#000" stroke-width="1.8"/>
<text x="254.75" y="586" text-anchor="middle" font-size="11.5" font-weight="bold" fill="#231f20">ff</text>
<text x="275.35" y="586" text-anchor="start" font-size="11.5" font-weight="bold" fill="#231f20">Rab30<tspan font-size="6.2" dy="-3.9" letter-spacing="0.5">L-/-</tspan></text>
<text transform="translate(196.7 496.5) rotate(-90)" text-anchor="middle" font-size="11.7" font-weight="bold" fill="#231f20">NEFA (mmol/L)</text>
<rect x="396" y="476.8" width="26.6" height="91.3" fill="#ffffff" stroke="#000" stroke-width="1.5"/>
<rect x="437.9" y="495.1" width="25.6" height="73" fill="#3a55a4" stroke="#000" stroke-width="1.5"/>
<circle cx="413.6" cy="460.7" r="2.9" fill="#2b2627" stroke="#000" stroke-width="0.8"/>
<circle cx="404.8" cy="463.1" r="2.9" fill="#2b2627" stroke="#000" stroke-width="0.8"/>
<circle cx="404.8" cy="468.6" r="2.9" fill="#2b2627" stroke="#000" stroke-width="0.8"/>
<circle cx="413.6" cy="471.9" r="2.9" fill="#2b2627" stroke="#000" stroke-width="0.8"/>
<circle cx="404.8" cy="476.3" r="2.9" fill="#2b2627" stroke="#000" stroke-width="0.8"/>
<circle cx="404.8" cy="487.2" r="2.9" fill="#2b2627" stroke="#000" stroke-width="0.8"/>
<circle cx="413.6" cy="486.7" r="2.9" fill="#2b2627" stroke="#000" stroke-width="0.8"/>
<circle cx="409.2" cy="492.2" r="2.9" fill="#2b2627" stroke="#000" stroke-width="0.8"/>
<circle cx="455.2" cy="467.3" r="2.9" fill="#2b2627" stroke="#000" stroke-width="0.8"/>
<circle cx="446.4" cy="470.3" r="2.9" fill="#2b2627" stroke="#000" stroke-width="0.8"/>
<circle cx="455.2" cy="491.4" r="2.9" fill="#2b2627" stroke="#000" stroke-width="0.8"/>
<circle cx="446.4" cy="493.2" r="2.9" fill="#2b2627" stroke="#000" stroke-width="0.8"/>
<circle cx="450.8" cy="499.3" r="2.9" fill="#2b2627" stroke="#000" stroke-width="0.8"/>
<circle cx="450.8" cy="511.1" r="2.9" fill="#2b2627" stroke="#000" stroke-width="0.8"/>
<circle cx="450.8" cy="527.5" r="2.9" fill="#2b2627" stroke="#000" stroke-width="0.8"/>
<path d="M409.3 471.7V480.1M401.8 471.7H416.8M401.8 480.1H416.8" stroke="#000" stroke-width="1.5" fill="none"/>
<path d="M450.7 486.1V502.3M443.2 486.1H458.2M443.2 502.3H458.2" stroke="#000" stroke-width="1.5" fill="none"/>
<path d="M381.2 422V568.1H480" stroke="#000" stroke-width="1.8" fill="none"/>
<path d="M374.7 568.1H381.2" stroke="#000" stroke-width="1.8"/>
<text x="374.5" y="572.11" text-anchor="end" font-size="11.2" font-weight="bold" fill="#231f20" style="stroke:none">0</text>
<path d="M374.7 531.58H381.2" stroke="#000" stroke-width="1.8"/>
<text x="374.5" y="535.58" text-anchor="end" font-size="11.2" font-weight="bold" fill="#231f20" style="stroke:none">50</text>
<path d="M374.7 495.05H381.2" stroke="#000" stroke-width="1.8"/>
<text x="374.5" y="499.06" text-anchor="end" font-size="11.2" font-weight="bold" fill="#231f20" style="stroke:none">100</text>
<path d="M374.7 458.52H381.2" stroke="#000" stroke-width="1.8"/>
<text x="374.5" y="462.53" text-anchor="end" font-size="11.2" font-weight="bold" fill="#231f20" style="stroke:none">150</text>
<path d="M374.7 422H381.2" stroke="#000" stroke-width="1.8"/>
<text x="374.5" y="426.01" text-anchor="end" font-size="11.2" font-weight="bold" fill="#231f20" style="stroke:none">200</text>
<path d="M409.3 568.1V574.6" stroke="#000" stroke-width="1.8"/>
<path d="M450.7 568.1V574.6" stroke="#000" stroke-width="1.8"/>
<text x="409.5" y="586" text-anchor="middle" font-size="11.5" font-weight="bold" fill="#231f20">ff</text>
<text x="430.3" y="586" text-anchor="start" font-size="11.5" font-weight="bold" fill="#231f20">Rab30<tspan font-size="6.2" dy="-3.9" letter-spacing="0.5">L-/-</tspan></text>
<text transform="translate(348 498.1) rotate(-90)" text-anchor="middle" font-size="11.7" font-weight="bold" fill="#231f20">cholesterol (mg/dL)</text>
<rect x="551.3" y="490.4" width="26.3" height="77.7" fill="#ffffff" stroke="#000" stroke-width="1.5"/>
<rect x="592.9" y="507.2" width="25.6" height="60.9" fill="#3a55a4" stroke="#000" stroke-width="1.5"/>
<circle cx="564.6" cy="438.2" r="2.9" fill="#2b2627" stroke="#000" stroke-width="0.8"/>
<circle cx="564.6" cy="480.6" r="2.9" fill="#2b2627" stroke="#000" stroke-width="0.8"/>
<circle cx="555.9" cy="483.9" r="2.9" fill="#2b2627" stroke="#000" stroke-width="0.8"/>
<circle cx="573.4" cy="481.2" r="2.9" fill="#2b2627" stroke="#000" stroke-width="0.8"/>
<circle cx="564.6" cy="493.7" r="2.9" fill="#2b2627" stroke="#000" stroke-width="0.8"/>
<circle cx="564.6" cy="505" r="2.9" fill="#2b2627" stroke="#000" stroke-width="0.8"/>
<circle cx="560" cy="516.5" r="2.9" fill="#2b2627" stroke="#000" stroke-width="0.8"/>
<circle cx="569" cy="515.2" r="2.9" fill="#2b2627" stroke="#000" stroke-width="0.8"/>
<circle cx="606" cy="473.9" r="2.9" fill="#2b2627" stroke="#000" stroke-width="0.8"/>
<circle cx="601.7" cy="493.9" r="2.9" fill="#2b2627" stroke="#000" stroke-width="0.8"/>
<circle cx="610.4" cy="493.9" r="2.9" fill="#2b2627" stroke="#000" stroke-width="0.8"/>
<circle cx="606" cy="504.2" r="2.9" fill="#2b2627" stroke="#000" stroke-width="0.8"/>
<circle cx="606" cy="509.6" r="2.9" fill="#2b2627" stroke="#000" stroke-width="0.8"/>
<circle cx="606" cy="514.7" r="2.9" fill="#2b2627" stroke="#000" stroke-width="0.8"/>
<circle cx="606" cy="522.8" r="2.9" fill="#2b2627" stroke="#000" stroke-width="0.8"/>
<circle cx="606" cy="532" r="2.9" fill="#2b2627" stroke="#000" stroke-width="0.8"/>
<path d="M564.45 480.4V498.4M556.95 480.4H571.95M556.95 498.4H571.95" stroke="#000" stroke-width="1.5" fill="none"/>
<path d="M605.7 499.5V513M598.2 499.5H613.2M598.2 513H613.2" stroke="#000" stroke-width="1.5" fill="none"/>
<path d="M536.4 422V568.1H635" stroke="#000" stroke-width="1.8" fill="none"/>
<path d="M529.9 568.1H536.4" stroke="#000" stroke-width="1.8"/>
<text x="529.7" y="572.11" text-anchor="end" font-size="11.2" font-weight="bold" fill="#231f20" style="stroke:none">0</text>
<path d="M529.9 519.4H536.4" stroke="#000" stroke-width="1.8"/>
<text x="529.7" y="523.41" text-anchor="end" font-size="11.2" font-weight="bold" fill="#231f20" style="stroke:none">1</text>
<path d="M529.9 470.7H536.4" stroke="#000" stroke-width="1.8"/>
<text x="529.7" y="474.71" text-anchor="end" font-size="11.2" font-weight="bold" fill="#231f20" style="stroke:none">2</text>
<path d="M529.9 422H536.4" stroke="#000" stroke-width="1.8"/>
<text x="529.7" y="426.01" text-anchor="end" font-size="11.2" font-weight="bold" fill="#231f20" style="stroke:none">3</text>
<path d="M564.45 568.1V574.6" stroke="#000" stroke-width="1.8"/>
<path d="M605.7 568.1V574.6" stroke="#000" stroke-width="1.8"/>
<text x="564.65" y="586" text-anchor="middle" font-size="11.5" font-weight="bold" fill="#231f20">ff</text>
<text x="585.3" y="586" text-anchor="start" font-size="11.5" font-weight="bold" fill="#231f20">Rab30<tspan font-size="6.2" dy="-3.9" letter-spacing="0.5">L-/-</tspan></text>
<text transform="translate(505.9 497) rotate(-90)" text-anchor="middle" font-size="11.7" font-weight="bold" fill="#231f20"><tspan font-weight="normal" fill="#666" style="stroke:none">β</tspan>HB (mmol/L)</text>
<rect x="84.1" y="708.2" width="16.6" height="65.5" fill="#ffffff" stroke="#000" stroke-width="1.5"/>
<rect x="113.3" y="716.6" width="16.6" height="57.1" fill="#6ecddd" stroke="#000" stroke-width="1.5"/>
<rect x="142.2" y="710.7" width="16.6" height="63" fill="#ec2227" stroke="#000" stroke-width="1.5"/>
<circle cx="92.4" cy="672.8" r="2.7" fill="#2b2627" stroke="#000" stroke-width="0.8"/>
<circle cx="92.4" cy="691.8" r="2.7" fill="#2b2627" stroke="#000" stroke-width="0.8"/>
<circle cx="87.7" cy="702.6" r="2.7" fill="#2b2627" stroke="#000" stroke-width="0.8"/>
<circle cx="97.1" cy="701" r="2.7" fill="#2b2627" stroke="#000" stroke-width="0.8"/>
<circle cx="92.4" cy="715.7" r="2.7" fill="#2b2627" stroke="#000" stroke-width="0.8"/>
<circle cx="87.7" cy="722.9" r="2.7" fill="#2b2627" stroke="#000" stroke-width="0.8"/>
<circle cx="96.8" cy="723.3" r="2.7" fill="#2b2627" stroke="#000" stroke-width="0.8"/>
<circle cx="87.7" cy="727.4" r="2.7" fill="#2b2627" stroke="#000" stroke-width="0.8"/>
<circle cx="121.6" cy="640.2" r="2.7" fill="#2b2627" stroke="#000" stroke-width="0.8"/>
<circle cx="121.6" cy="702.6" r="2.7" fill="#2b2627" stroke="#000" stroke-width="0.8"/>
<circle cx="125.9" cy="721.6" r="2.7" fill="#2b2627" stroke="#000" stroke-width="0.8"/>
<circle cx="117" cy="724.6" r="2.7" fill="#2b2627" stroke="#000" stroke-width="0.8"/>
<circle cx="121.6" cy="729.9" r="2.7" fill="#2b2627" stroke="#000" stroke-width="0.8"/>
<circle cx="113.8" cy="733" r="2.7" fill="#2b2627" stroke="#000" stroke-width="0.8"/>
<circle cx="129.3" cy="731.2" r="2.7" fill="#2b2627" stroke="#000" stroke-width="0.8"/>
<circle cx="121.6" cy="741.7" r="2.7" fill="#2b2627" stroke="#000" stroke-width="0.8"/>
<circle cx="150.7" cy="679.9" r="2.7" fill="#2b2627" stroke="#000" stroke-width="0.8"/>
<circle cx="150.7" cy="689.3" r="2.7" fill="#2b2627" stroke="#000" stroke-width="0.8"/>
<circle cx="150.7" cy="701" r="2.7" fill="#2b2627" stroke="#000" stroke-width="0.8"/>
<circle cx="150.7" cy="706.3" r="2.7" fill="#2b2627" stroke="#000" stroke-width="0.8"/>
<circle cx="150.7" cy="717.1" r="2.7" fill="#2b2627" stroke="#000" stroke-width="0.8"/>
<circle cx="150.7" cy="723.1" r="2.7" fill="#2b2627" stroke="#000" stroke-width="0.8"/>
<circle cx="150.7" cy="727.4" r="2.7" fill="#2b2627" stroke="#000" stroke-width="0.8"/>
<circle cx="150.7" cy="732" r="2.7" fill="#2b2627" stroke="#000" stroke-width="0.8"/>
<path d="M92.4 700.8V713.8M86.7 700.8H98.1M86.7 713.8H98.1" stroke="#000" stroke-width="1.5" fill="none"/>
<path d="M121.6 704.1V727.4M115.9 704.1H127.3M115.9 727.4H127.3" stroke="#000" stroke-width="1.5" fill="none"/>
<path d="M150.5 702.6V716.3M144.8 702.6H156.2M144.8 716.3H156.2" stroke="#000" stroke-width="1.5" fill="none"/>
<path d="M72.8 628.1V773.7H171.2" stroke="#000" stroke-width="1.8" fill="none"/>
<path d="M66.3 773.7H72.8" stroke="#000" stroke-width="1.8"/>
<text x="66.1" y="777.71" text-anchor="end" font-size="11.2" font-weight="bold" fill="#231f20" style="stroke:none">0</text>
<path d="M66.3 725.17H72.8" stroke="#000" stroke-width="1.8"/>
<text x="66.1" y="729.18" text-anchor="end" font-size="11.2" font-weight="bold" fill="#231f20" style="stroke:none">50</text>
<path d="M66.3 676.63H72.8" stroke="#000" stroke-width="1.8"/>
<text x="66.1" y="680.64" text-anchor="end" font-size="11.2" font-weight="bold" fill="#231f20" style="stroke:none">100</text>
<path d="M66.3 628.1H72.8" stroke="#000" stroke-width="1.8"/>
<text x="66.1" y="632.11" text-anchor="end" font-size="11.2" font-weight="bold" fill="#231f20" style="stroke:none">150</text>
<path d="M92.4 773.7V780.2" stroke="#000" stroke-width="1.8"/>
<path d="M121.6 773.7V780.2" stroke="#000" stroke-width="1.8"/>
<path d="M150.5 773.7V780.2" stroke="#000" stroke-width="1.8"/>
<text x="89.5" y="793.2" text-anchor="middle" font-size="11.5" font-weight="bold" fill="#231f20">ff;ff</text>
<text x="104.6" y="793.2" text-anchor="start" font-size="11.5" font-weight="bold" fill="#231f20">Cpt2<tspan font-size="6.2" dy="-3.9" letter-spacing="0.5">L-/-</tspan></text>
<text x="155.55" y="793.2" text-anchor="middle" font-size="11.5" font-weight="bold" fill="#231f20">DKO</text>
<text transform="translate(42.8 702.5) rotate(-90)" text-anchor="middle" font-size="11.7" font-weight="bold" fill="#231f20">TG&#160; (mg/dL)</text>
<rect x="238.25" y="709.5" width="16.6" height="64.2" fill="#ffffff" stroke="#000" stroke-width="1.5"/>
<rect x="267.15" y="699.6" width="16.6" height="74.1" fill="#6ecddd" stroke="#000" stroke-width="1.5"/>
<rect x="296.3" y="706.4" width="16.6" height="67.3" fill="#ec2227" stroke="#000" stroke-width="1.5"/>
<circle cx="246.2" cy="675.2" r="2.7" fill="#2b2627" stroke="#000" stroke-width="0.8"/>
<circle cx="246.2" cy="697.4" r="2.7" fill="#2b2627" stroke="#000" stroke-width="0.8"/>
<circle cx="246.2" cy="703.1" r="2.7" fill="#2b2627" stroke="#000" stroke-width="0.8"/>
<circle cx="246.2" cy="708.9" r="2.7" fill="#2b2627" stroke="#000" stroke-width="0.8"/>
<circle cx="241.7" cy="717" r="2.7" fill="#2b2627" stroke="#000" stroke-width="0.8"/>
<circle cx="250.8" cy="716.7" r="2.7" fill="#2b2627" stroke="#000" stroke-width="0.8"/>
<circle cx="241.7" cy="724.4" r="2.7" fill="#2b2627" stroke="#000" stroke-width="0.8"/>
<circle cx="250.8" cy="724.4" r="2.7" fill="#2b2627" stroke="#000" stroke-width="0.8"/>
<circle cx="275.3" cy="651.2" r="2.7" fill="#2b2627" stroke="#000" stroke-width="0.8"/>
<circle cx="275.3" cy="696.1" r="2.7" fill="#2b2627" stroke="#000" stroke-width="0.8"/>
<circle cx="283" cy="696.1" r="2.7" fill="#2b2627" stroke="#000" stroke-width="0.8"/>
<circle cx="267.5" cy="700.2" r="2.7" fill="#2b2627" stroke="#000" stroke-width="0.8"/>
<circle cx="275.3" cy="707" r="2.7" fill="#2b2627" stroke="#000" stroke-width="0.8"/>
<circle cx="267.5" cy="709.8" r="2.7" fill="#2b2627" stroke="#000" stroke-width="0.8"/>
<circle cx="283" cy="709.3" r="2.7" fill="#2b2627" stroke="#000" stroke-width="0.8"/>
<circle cx="275.3" cy="716" r="2.7" fill="#2b2627" stroke="#000" stroke-width="0.8"/>
<circle cx="304.5" cy="661.8" r="2.7" fill="#2b2627" stroke="#000" stroke-width="0.8"/>
<circle cx="304.5" cy="687.2" r="2.7" fill="#2b2627" stroke="#000" stroke-width="0.8"/>
<circle cx="297" cy="708.3" r="2.7" fill="#2b2627" stroke="#000" stroke-width="0.8"/>
<circle cx="304.5" cy="708.9" r="2.7" fill="#2b2627" stroke="#000" stroke-width="0.8"/>
<circle cx="311.9" cy="710.8" r="2.7" fill="#2b2627" stroke="#000" stroke-width="0.8"/>
<circle cx="297" cy="715.1" r="2.7" fill="#2b2627" stroke="#000" stroke-width="0.8"/>
<circle cx="308.8" cy="722.6" r="2.7" fill="#2b2627" stroke="#000" stroke-width="0.8"/>
<circle cx="300.1" cy="725.7" r="2.7" fill="#2b2627" stroke="#000" stroke-width="0.8"/>
<path d="M246.55 702.6V716.2M240.85 702.6H252.25M240.85 716.2H252.25" stroke="#000" stroke-width="1.5" fill="none"/>
<path d="M275.45 691.2V705.6M269.75 691.2H281.15M269.75 705.6H281.15" stroke="#000" stroke-width="1.5" fill="none"/>
<path d="M304.6 697.7V713.5M298.9 697.7H310.3M298.9 713.5H310.3" stroke="#000" stroke-width="1.5" fill="none"/>
<path d="M226 628.1V773.7H325" stroke="#000" stroke-width="1.8" fill="none"/>
<path d="M219.5 773.7H226" stroke="#000" stroke-width="1.8"/>
<text x="219.3" y="777.71" text-anchor="end" font-size="11.2" font-weight="bold" fill="#231f20" style="stroke:none">0.0</text>
<path d="M219.5 725.17H226" stroke="#000" stroke-width="1.8"/>
<text x="219.3" y="729.18" text-anchor="end" font-size="11.2" font-weight="bold" fill="#231f20" style="stroke:none">0.5</text>
<path d="M219.5 676.63H226" stroke="#000" stroke-width="1.8"/>
<text x="219.3" y="680.64" text-anchor="end" font-size="11.2" font-weight="bold" fill="#231f20" style="stroke:none">1.0</text>
<path d="M219.5 628.1H226" stroke="#000" stroke-width="1.8"/>
<text x="219.3" y="632.11" text-anchor="end" font-size="11.2" font-weight="bold" fill="#231f20" style="stroke:none">1.5</text>
<path d="M246.55 773.7V780.2" stroke="#000" stroke-width="1.8"/>
<path d="M275.45 773.7V780.2" stroke="#000" stroke-width="1.8"/>
<path d="M304.6 773.7V780.2" stroke="#000" stroke-width="1.8"/>
<text x="242.25" y="793.2" text-anchor="middle" font-size="11.5" font-weight="bold" fill="#231f20">ff;ff</text>
<text x="255.35" y="793.2" text-anchor="start" font-size="11.5" font-weight="bold" fill="#231f20">Cpt2<tspan font-size="6.2" dy="-3.9" letter-spacing="0.5">L-/-</tspan></text>
<text x="306.5" y="793.2" text-anchor="middle" font-size="11.5" font-weight="bold" fill="#231f20">DKO</text>
<text transform="translate(196.7 702.6) rotate(-90)" text-anchor="middle" font-size="11.7" font-weight="bold" fill="#231f20">NEFA (mmol/L)</text>
<rect x="392.05" y="702" width="16.6" height="72.2" fill="#ffffff" stroke="#000" stroke-width="1.5"/>
<rect x="421.1" y="679.6" width="16.6" height="94.6" fill="#6ecddd" stroke="#000" stroke-width="1.5"/>
<rect x="450.1" y="690.6" width="16.6" height="83.6" fill="#ec2227" stroke="#000" stroke-width="1.5"/>
<circle cx="393.2" cy="690.8" r="2.7" fill="#2b2627" stroke="#000" stroke-width="0.8"/>
<circle cx="408.5" cy="694.3" r="2.7" fill="#2b2627" stroke="#000" stroke-width="0.8"/>
<circle cx="393.2" cy="698" r="2.7" fill="#2b2627" stroke="#000" stroke-width="0.8"/>
<circle cx="398.2" cy="698" r="2.7" fill="#2b2627" stroke="#000" stroke-width="0.8"/>
<circle cx="403.1" cy="700.7" r="2.7" fill="#2b2627" stroke="#000" stroke-width="0.8"/>
<circle cx="408.5" cy="700.7" r="2.7" fill="#2b2627" stroke="#000" stroke-width="0.8"/>
<circle cx="393.2" cy="702.6" r="2.7" fill="#2b2627" stroke="#000" stroke-width="0.8"/>
<circle cx="400.4" cy="715.4" r="2.7" fill="#2b2627" stroke="#000" stroke-width="0.8"/>
<circle cx="429.6" cy="637.2" r="2.7" fill="#2b2627" stroke="#000" stroke-width="0.8"/>
<circle cx="425.2" cy="655.7" r="2.7" fill="#2b2627" stroke="#000" stroke-width="0.8"/>
<circle cx="433.9" cy="655.7" r="2.7" fill="#2b2627" stroke="#000" stroke-width="0.8"/>
<circle cx="429.6" cy="663.8" r="2.7" fill="#2b2627" stroke="#000" stroke-width="0.8"/>
<circle cx="429.6" cy="684.6" r="2.7" fill="#2b2627" stroke="#000" stroke-width="0.8"/>
<circle cx="429.6" cy="706.7" r="2.7" fill="#2b2627" stroke="#000" stroke-width="0.8"/>
<circle cx="425.2" cy="711.6" r="2.7" fill="#2b2627" stroke="#000" stroke-width="0.8"/>
<circle cx="433.9" cy="711.6" r="2.7" fill="#2b2627" stroke="#000" stroke-width="0.8"/>
<circle cx="458.5" cy="648.4" r="2.7" fill="#2b2627" stroke="#000" stroke-width="0.8"/>
<circle cx="458.5" cy="669.1" r="2.7" fill="#2b2627" stroke="#000" stroke-width="0.8"/>
<circle cx="458.5" cy="689.6" r="2.7" fill="#2b2627" stroke="#000" stroke-width="0.8"/>
<circle cx="458.5" cy="694.5" r="2.7" fill="#2b2627" stroke="#000" stroke-width="0.8"/>
<circle cx="454.4" cy="698.9" r="2.7" fill="#2b2627" stroke="#000" stroke-width="0.8"/>
<circle cx="454.4" cy="704.2" r="2.7" fill="#2b2627" stroke="#000" stroke-width="0.8"/>
<circle cx="462.8" cy="703" r="2.7" fill="#2b2627" stroke="#000" stroke-width="0.8"/>
<circle cx="458.5" cy="709.2" r="2.7" fill="#2b2627" stroke="#000" stroke-width="0.8"/>
<path d="M400.35 698.5V705M394.65 698.5H406.05M394.65 705H406.05" stroke="#000" stroke-width="1.5" fill="none"/>
<path d="M429.4 667.8V688.7M423.7 667.8H435.1M423.7 688.7H435.1" stroke="#000" stroke-width="1.5" fill="none"/>
<path d="M458.4 682.1V697M452.7 682.1H464.1M452.7 697H464.1" stroke="#000" stroke-width="1.5" fill="none"/>
<path d="M381.4 629.2V774.2H478.4" stroke="#000" stroke-width="1.8" fill="none"/>
<path d="M374.9 774.2H381.4" stroke="#000" stroke-width="1.8"/>
<text x="374.7" y="778.21" text-anchor="end" font-size="11.2" font-weight="bold" fill="#231f20" style="stroke:none">0</text>
<path d="M374.9 737.95H381.4" stroke="#000" stroke-width="1.8"/>
<text x="374.7" y="741.96" text-anchor="end" font-size="11.2" font-weight="bold" fill="#231f20" style="stroke:none">50</text>
<path d="M374.9 701.7H381.4" stroke="#000" stroke-width="1.8"/>
<text x="374.7" y="705.71" text-anchor="end" font-size="11.2" font-weight="bold" fill="#231f20" style="stroke:none">100</text>
<path d="M374.9 665.45H381.4" stroke="#000" stroke-width="1.8"/>
<text x="374.7" y="669.46" text-anchor="end" font-size="11.2" font-weight="bold" fill="#231f20" style="stroke:none">150</text>
<path d="M374.9 629.2H381.4" stroke="#000" stroke-width="1.8"/>
<text x="374.7" y="633.21" text-anchor="end" font-size="11.2" font-weight="bold" fill="#231f20" style="stroke:none">200</text>
<path d="M400.35 774.2V780.7" stroke="#000" stroke-width="1.8"/>
<path d="M429.4 774.2V780.7" stroke="#000" stroke-width="1.8"/>
<path d="M458.4 774.2V780.7" stroke="#000" stroke-width="1.8"/>
<text x="395.25" y="793.2" text-anchor="middle" font-size="11.5" font-weight="bold" fill="#231f20">ff;ff</text>
<text x="408.5" y="793.2" text-anchor="start" font-size="11.5" font-weight="bold" fill="#231f20">Cpt2<tspan font-size="6.2" dy="-3.9" letter-spacing="0.5">L-/-</tspan></text>
<text x="459.7" y="793.2" text-anchor="middle" font-size="11.5" font-weight="bold" fill="#231f20">DKO</text>
<text transform="translate(347.8 704.2) rotate(-90)" text-anchor="middle" font-size="11.7" font-weight="bold" fill="#231f20">cholesterol (mg/dL)</text>
<rect x="547.3" y="684.7" width="16.6" height="89.5" fill="#ffffff" stroke="#000" stroke-width="1.5"/>
<rect x="576.95" y="739.8" width="16.6" height="34.4" fill="#6ecddd" stroke="#000" stroke-width="1.5"/>
<rect x="606.3" y="707" width="16.6" height="67.2" fill="#ec2227" stroke="#000" stroke-width="1.5"/>
<circle cx="555.7" cy="654.8" r="2.7" fill="#2b2627" stroke="#000" stroke-width="0.8"/>
<circle cx="555.7" cy="676.3" r="2.7" fill="#2b2627" stroke="#000" stroke-width="0.8"/>
<circle cx="560.3" cy="681.4" r="2.7" fill="#2b2627" stroke="#000" stroke-width="0.8"/>
<circle cx="551" cy="684.4" r="2.7" fill="#2b2627" stroke="#000" stroke-width="0.8"/>
<circle cx="555.7" cy="689.6" r="2.7" fill="#2b2627" stroke="#000" stroke-width="0.8"/>
<circle cx="547.9" cy="692.5" r="2.7" fill="#2b2627" stroke="#000" stroke-width="0.8"/>
<circle cx="563.5" cy="692.5" r="2.7" fill="#2b2627" stroke="#000" stroke-width="0.8"/>
<circle cx="555.7" cy="697.9" r="2.7" fill="#2b2627" stroke="#000" stroke-width="0.8"/>
<circle cx="580.6" cy="720.4" r="2.7" fill="#2b2627" stroke="#000" stroke-width="0.8"/>
<circle cx="589.7" cy="724.7" r="2.7" fill="#2b2627" stroke="#000" stroke-width="0.8"/>
<circle cx="580.6" cy="728.8" r="2.7" fill="#2b2627" stroke="#000" stroke-width="0.8"/>
<circle cx="577.4" cy="745" r="2.7" fill="#2b2627" stroke="#000" stroke-width="0.8"/>
<circle cx="582.6" cy="745" r="2.7" fill="#2b2627" stroke="#000" stroke-width="0.8"/>
<circle cx="587.8" cy="747.6" r="2.7" fill="#2b2627" stroke="#000" stroke-width="0.8"/>
<circle cx="593" cy="746.3" r="2.7" fill="#2b2627" stroke="#000" stroke-width="0.8"/>
<circle cx="577.4" cy="750.2" r="2.7" fill="#2b2627" stroke="#000" stroke-width="0.8"/>
<circle cx="618.9" cy="681.8" r="2.7" fill="#2b2627" stroke="#000" stroke-width="0.8"/>
<circle cx="609.8" cy="685.7" r="2.7" fill="#2b2627" stroke="#000" stroke-width="0.8"/>
<circle cx="614.4" cy="693.8" r="2.7" fill="#2b2627" stroke="#000" stroke-width="0.8"/>
<circle cx="614.4" cy="700.9" r="2.7" fill="#2b2627" stroke="#000" stroke-width="0.8"/>
<circle cx="614.4" cy="710" r="2.7" fill="#2b2627" stroke="#000" stroke-width="0.8"/>
<circle cx="618.9" cy="721" r="2.7" fill="#2b2627" stroke="#000" stroke-width="0.8"/>
<circle cx="609.8" cy="724.9" r="2.7" fill="#2b2627" stroke="#000" stroke-width="0.8"/>
<circle cx="614.4" cy="731.7" r="2.7" fill="#2b2627" stroke="#000" stroke-width="0.8"/>
<path d="M555.6 678.5V688.6M549.9 678.5H561.3M549.9 688.6H561.3" stroke="#000" stroke-width="1.5" fill="none"/>
<path d="M585.25 734.4V744.2M579.55 734.4H590.95M579.55 744.2H590.95" stroke="#000" stroke-width="1.5" fill="none"/>
<path d="M614.6 699.6V713M608.9 699.6H620.3M608.9 713H620.3" stroke="#000" stroke-width="1.5" fill="none"/>
<path d="M536 627.7V774.2H635" stroke="#000" stroke-width="1.8" fill="none"/>
<path d="M529.5 774.2H536" stroke="#000" stroke-width="1.8"/>
<text x="529.3" y="778.21" text-anchor="end" font-size="11.2" font-weight="bold" fill="#231f20" style="stroke:none">0.0</text>
<path d="M529.5 737.58H536" stroke="#000" stroke-width="1.8"/>
<text x="529.3" y="741.58" text-anchor="end" font-size="11.2" font-weight="bold" fill="#231f20" style="stroke:none">0.1</text>
<path d="M529.5 700.95H536" stroke="#000" stroke-width="1.8"/>
<text x="529.3" y="704.96" text-anchor="end" font-size="11.2" font-weight="bold" fill="#231f20" style="stroke:none">0.2</text>
<path d="M529.5 664.33H536" stroke="#000" stroke-width="1.8"/>
<text x="529.3" y="668.33" text-anchor="end" font-size="11.2" font-weight="bold" fill="#231f20" style="stroke:none">0.3</text>
<path d="M529.5 627.7H536" stroke="#000" stroke-width="1.8"/>
<text x="529.3" y="631.71" text-anchor="end" font-size="11.2" font-weight="bold" fill="#231f20" style="stroke:none">0.4</text>
<path d="M555.6 774.2V780.7" stroke="#000" stroke-width="1.8"/>
<path d="M585.25 774.2V780.7" stroke="#000" stroke-width="1.8"/>
<path d="M614.6 774.2V780.7" stroke="#000" stroke-width="1.8"/>
<text x="550.8" y="793.2" text-anchor="middle" font-size="11.5" font-weight="bold" fill="#231f20">ff;ff</text>
<text x="564.75" y="793.2" text-anchor="start" font-size="11.5" font-weight="bold" fill="#231f20">Cpt2<tspan font-size="6.2" dy="-3.9" letter-spacing="0.5">L-/-</tspan></text>
<text x="615.1" y="793.2" text-anchor="middle" font-size="11.5" font-weight="bold" fill="#231f20">DKO</text>
<text transform="translate(505.9 703.4) rotate(-90)" text-anchor="middle" font-size="11.7" font-weight="bold" fill="#231f20"><tspan font-weight="normal" fill="#666" style="stroke:none">β</tspan>HB (mmol/L)</text>
<text x="556" y="639.05" text-anchor="middle" font-size="11.3" font-weight="bold" fill="#231f20" style="stroke-width:0.15px">a</text>
<text x="586.5" y="705.25" text-anchor="middle" font-size="11.3" font-weight="bold" fill="#231f20" style="stroke-width:0.15px">b</text>
<text x="614.1" y="666.95" text-anchor="middle" font-size="11.3" font-weight="bold" fill="#231f20" style="stroke-width:0.15px">c</text>
<rect x="83.6" y="933.8" width="16.6" height="43.7" fill="#ffffff" stroke="#000" stroke-width="1.5"/>
<rect x="112.6" y="903.1" width="16.6" height="74.4" fill="#6ecddd" stroke="#000" stroke-width="1.5"/>
<rect x="141.6" y="946.7" width="16.6" height="30.8" fill="#ec2227" stroke="#000" stroke-width="1.5"/>
<circle cx="91.3" cy="886.6" r="2.7" fill="#2b2627" stroke="#000" stroke-width="0.8"/>
<circle cx="91.7" cy="919.2" r="2.7" fill="#2b2627" stroke="#000" stroke-width="0.8"/>
<circle cx="91.7" cy="929.9" r="2.7" fill="#2b2627" stroke="#000" stroke-width="0.8"/>
<circle cx="83.6" cy="933.8" r="2.7" fill="#2b2627" stroke="#000" stroke-width="0.8"/>
<circle cx="99.4" cy="931.7" r="2.7" fill="#2b2627" stroke="#000" stroke-width="0.8"/>
<circle cx="91.7" cy="948.5" r="2.7" fill="#2b2627" stroke="#000" stroke-width="0.8"/>
<circle cx="87.1" cy="955.5" r="2.7" fill="#2b2627" stroke="#000" stroke-width="0.8"/>
<circle cx="96.2" cy="953.4" r="2.7" fill="#2b2627" stroke="#000" stroke-width="0.8"/>
<circle cx="120.6" cy="844.6" r="2.7" fill="#2b2627" stroke="#000" stroke-width="0.8"/>
<circle cx="120.6" cy="859" r="2.7" fill="#2b2627" stroke="#000" stroke-width="0.8"/>
<circle cx="120.6" cy="895.4" r="2.7" fill="#2b2627" stroke="#000" stroke-width="0.8"/>
<circle cx="113" cy="898.6" r="2.7" fill="#2b2627" stroke="#000" stroke-width="0.8"/>
<circle cx="128.3" cy="897.5" r="2.7" fill="#2b2627" stroke="#000" stroke-width="0.8"/>
<circle cx="115.7" cy="938" r="2.7" fill="#2b2627" stroke="#000" stroke-width="0.8"/>
<circle cx="125.5" cy="937.3" r="2.7" fill="#2b2627" stroke="#000" stroke-width="0.8"/>
<circle cx="120.6" cy="946.7" r="2.7" fill="#2b2627" stroke="#000" stroke-width="0.8"/>
<circle cx="150" cy="921.5" r="2.7" fill="#2b2627" stroke="#000" stroke-width="0.8"/>
<circle cx="150" cy="929.6" r="2.7" fill="#2b2627" stroke="#000" stroke-width="0.8"/>
<circle cx="142.3" cy="946.1" r="2.7" fill="#2b2627" stroke="#000" stroke-width="0.8"/>
<circle cx="150" cy="951.3" r="2.7" fill="#2b2627" stroke="#000" stroke-width="0.8"/>
<circle cx="157.7" cy="949.2" r="2.7" fill="#2b2627" stroke="#000" stroke-width="0.8"/>
<circle cx="142.3" cy="952.7" r="2.7" fill="#2b2627" stroke="#000" stroke-width="0.8"/>
<circle cx="142.3" cy="957.6" r="2.7" fill="#2b2627" stroke="#000" stroke-width="0.8"/>
<circle cx="157.7" cy="956.9" r="2.7" fill="#2b2627" stroke="#000" stroke-width="0.8"/>
<path d="M91.9 924.8V940.6M86.2 924.8H97.6M86.2 940.6H97.6" stroke="#000" stroke-width="1.5" fill="none"/>
<path d="M120.9 889.1V915M115.2 889.1H126.6M115.2 915H126.6" stroke="#000" stroke-width="1.5" fill="none"/>
<path d="M149.9 941.1V950.8M144.2 941.1H155.6M144.2 950.8H155.6" stroke="#000" stroke-width="1.5" fill="none"/>
<path d="M71.8 830.8V977.5H170.1" stroke="#000" stroke-width="1.8" fill="none"/>
<path d="M65.3 977.5H71.8" stroke="#000" stroke-width="1.8"/>
<text x="65.1" y="981.51" text-anchor="end" font-size="11.2" font-weight="bold" fill="#231f20" style="stroke:none">0</text>
<path d="M65.3 940.83H71.8" stroke="#000" stroke-width="1.8"/>
<text x="65.1" y="944.83" text-anchor="end" font-size="11.2" font-weight="bold" fill="#231f20" style="stroke:none">100</text>
<path d="M65.3 904.15H71.8" stroke="#000" stroke-width="1.8"/>
<text x="65.1" y="908.16" text-anchor="end" font-size="11.2" font-weight="bold" fill="#231f20" style="stroke:none">200</text>
<path d="M65.3 867.47H71.8" stroke="#000" stroke-width="1.8"/>
<text x="65.1" y="871.48" text-anchor="end" font-size="11.2" font-weight="bold" fill="#231f20" style="stroke:none">300</text>
<path d="M65.3 830.8H71.8" stroke="#000" stroke-width="1.8"/>
<text x="65.1" y="834.81" text-anchor="end" font-size="11.2" font-weight="bold" fill="#231f20" style="stroke:none">400</text>
<path d="M91.9 977.5V984" stroke="#000" stroke-width="1.8"/>
<path d="M120.9 977.5V984" stroke="#000" stroke-width="1.8"/>
<path d="M149.9 977.5V984" stroke="#000" stroke-width="1.8"/>
<text x="88.9" y="996.8" text-anchor="middle" font-size="11.5" font-weight="bold" fill="#231f20">ff;ff</text>
<text x="101.4" y="996.8" text-anchor="start" font-size="11.5" font-weight="bold" fill="#231f20">Cpt2<tspan font-size="6.2" dy="-3.9" letter-spacing="0.5">L-/-</tspan></text>
<text x="152.8" y="996.8" text-anchor="middle" font-size="11.5" font-weight="bold" fill="#231f20">DKO</text>
<text transform="translate(39 906.4) rotate(-90)" text-anchor="middle" font-size="11.7" font-weight="bold" fill="#231f20">TG&#160; (mg/dL)</text>
<text x="91.3" y="873.15" text-anchor="middle" font-size="11.3" font-weight="bold" fill="#231f20" style="stroke-width:0.15px">ab</text>
<text x="120.6" y="833.35" text-anchor="middle" font-size="11.3" font-weight="bold" fill="#231f20" style="stroke-width:0.15px">a</text>
<text x="150" y="909.25" text-anchor="middle" font-size="11.3" font-weight="bold" fill="#231f20" style="stroke-width:0.15px">b</text>
<rect x="240.7" y="944.2" width="16.6" height="33.9" fill="#ffffff" stroke="#000" stroke-width="1.5"/>
<rect x="269.9" y="928.8" width="16.6" height="49.3" fill="#6ecddd" stroke="#000" stroke-width="1.5"/>
<rect x="299.25" y="899.3" width="16.6" height="78.8" fill="#ec2227" stroke="#000" stroke-width="1.5"/>
<circle cx="249" cy="934.7" r="2.7" fill="#2b2627" stroke="#000" stroke-width="0.8"/>
<circle cx="256.8" cy="939" r="2.7" fill="#2b2627" stroke="#000" stroke-width="0.8"/>
<circle cx="249" cy="941.8" r="2.7" fill="#2b2627" stroke="#000" stroke-width="0.8"/>
<circle cx="241.2" cy="945.1" r="2.7" fill="#2b2627" stroke="#000" stroke-width="0.8"/>
<circle cx="256.8" cy="945.1" r="2.7" fill="#2b2627" stroke="#000" stroke-width="0.8"/>
<circle cx="249" cy="950.9" r="2.7" fill="#2b2627" stroke="#000" stroke-width="0.8"/>
<circle cx="256.8" cy="952.2" r="2.7" fill="#2b2627" stroke="#000" stroke-width="0.8"/>
<circle cx="241.2" cy="955.4" r="2.7" fill="#2b2627" stroke="#000" stroke-width="0.8"/>
<circle cx="278.2" cy="896.1" r="2.7" fill="#2b2627" stroke="#000" stroke-width="0.8"/>
<circle cx="278.2" cy="919.1" r="2.7" fill="#2b2627" stroke="#000" stroke-width="0.8"/>
<circle cx="273.7" cy="926.2" r="2.7" fill="#2b2627" stroke="#000" stroke-width="0.8"/>
<circle cx="282.8" cy="924.7" r="2.7" fill="#2b2627" stroke="#000" stroke-width="0.8"/>
<circle cx="273.7" cy="936.4" r="2.7" fill="#2b2627" stroke="#000" stroke-width="0.8"/>
<circle cx="282.8" cy="934.7" r="2.7" fill="#2b2627" stroke="#000" stroke-width="0.8"/>
<circle cx="282.8" cy="942.5" r="2.7" fill="#2b2627" stroke="#000" stroke-width="0.8"/>
<circle cx="273.7" cy="945.4" r="2.7" fill="#2b2627" stroke="#000" stroke-width="0.8"/>
<circle cx="307.4" cy="865.3" r="2.7" fill="#2b2627" stroke="#000" stroke-width="0.8"/>
<circle cx="307.4" cy="872.8" r="2.7" fill="#2b2627" stroke="#000" stroke-width="0.8"/>
<circle cx="307.4" cy="886" r="2.7" fill="#2b2627" stroke="#000" stroke-width="0.8"/>
<circle cx="302.5" cy="901.6" r="2.7" fill="#2b2627" stroke="#000" stroke-width="0.8"/>
<circle cx="312" cy="899" r="2.7" fill="#2b2627" stroke="#000" stroke-width="0.8"/>
<circle cx="307.4" cy="919.1" r="2.7" fill="#2b2627" stroke="#000" stroke-width="0.8"/>
<circle cx="307.4" cy="945.1" r="2.7" fill="#2b2627" stroke="#000" stroke-width="0.8"/>
<path d="M249 941.6V947.5M243.3 941.6H254.7M243.3 947.5H254.7" stroke="#000" stroke-width="1.5" fill="none"/>
<path d="M278.2 923V933.4M272.5 923H283.9M272.5 933.4H283.9" stroke="#000" stroke-width="1.5" fill="none"/>
<path d="M307.55 887.6V908.7M301.85 887.6H313.25M301.85 908.7H313.25" stroke="#000" stroke-width="1.5" fill="none"/>
<path d="M229.9 831.4V978.1H327.8" stroke="#000" stroke-width="1.8" fill="none"/>
<path d="M223.4 978.1H229.9" stroke="#000" stroke-width="1.8"/>
<text x="223.2" y="982.11" text-anchor="end" font-size="11.2" font-weight="bold" fill="#231f20" style="stroke:none">0.0</text>
<path d="M223.4 941.42H229.9" stroke="#000" stroke-width="1.8"/>
<text x="223.2" y="945.43" text-anchor="end" font-size="11.2" font-weight="bold" fill="#231f20" style="stroke:none">0.5</text>
<path d="M223.4 904.75H229.9" stroke="#000" stroke-width="1.8"/>
<text x="223.2" y="908.76" text-anchor="end" font-size="11.2" font-weight="bold" fill="#231f20" style="stroke:none">1.0</text>
<path d="M223.4 868.08H229.9" stroke="#000" stroke-width="1.8"/>
<text x="223.2" y="872.08" text-anchor="end" font-size="11.2" font-weight="bold" fill="#231f20" style="stroke:none">1.5</text>
<path d="M223.4 831.4H229.9" stroke="#000" stroke-width="1.8"/>
<text x="223.2" y="835.41" text-anchor="end" font-size="11.2" font-weight="bold" fill="#231f20" style="stroke:none">2.0</text>
<path d="M249 978.1V984.6" stroke="#000" stroke-width="1.8"/>
<path d="M278.2 978.1V984.6" stroke="#000" stroke-width="1.8"/>
<path d="M307.55 978.1V984.6" stroke="#000" stroke-width="1.8"/>
<text x="243.7" y="996.8" text-anchor="middle" font-size="11.5" font-weight="bold" fill="#231f20">ff;ff</text>
<text x="256.8" y="996.8" text-anchor="start" font-size="11.5" font-weight="bold" fill="#231f20">Cpt2<tspan font-size="6.2" dy="-3.9" letter-spacing="0.5">L-/-</tspan></text>
<text x="308.05" y="996.8" text-anchor="middle" font-size="11.5" font-weight="bold" fill="#231f20">DKO</text>
<text transform="translate(196.7 906.2) rotate(-90)" text-anchor="middle" font-size="11.7" font-weight="bold" fill="#231f20">NEFA (mmol/L)</text>
<text x="249.3" y="920.15" text-anchor="middle" font-size="11.3" font-weight="bold" fill="#231f20" style="stroke-width:0.15px">a</text>
<text x="278.2" y="882.55" text-anchor="middle" font-size="11.3" font-weight="bold" fill="#231f20" style="stroke-width:0.15px">a</text>
<text x="309" y="853.35" text-anchor="middle" font-size="11.3" font-weight="bold" fill="#231f20" style="stroke-width:0.15px">b</text>
<rect x="391.2" y="918" width="16.6" height="60.1" fill="#ffffff" stroke="#000" stroke-width="1.5"/>
<rect x="420.5" y="892.1" width="16.6" height="86" fill="#6ecddd" stroke="#000" stroke-width="1.5"/>
<rect x="449.9" y="925.8" width="16.6" height="52.3" fill="#ec2227" stroke="#000" stroke-width="1.5"/>
<circle cx="399.7" cy="900.5" r="2.7" fill="#2b2627" stroke="#000" stroke-width="0.8"/>
<circle cx="407.5" cy="907" r="2.7" fill="#2b2627" stroke="#000" stroke-width="0.8"/>
<circle cx="399.7" cy="911.3" r="2.7" fill="#2b2627" stroke="#000" stroke-width="0.8"/>
<circle cx="391.9" cy="915.4" r="2.7" fill="#2b2627" stroke="#000" stroke-width="0.8"/>
<circle cx="407.5" cy="915.4" r="2.7" fill="#2b2627" stroke="#000" stroke-width="0.8"/>
<circle cx="395.4" cy="923.9" r="2.7" fill="#2b2627" stroke="#000" stroke-width="0.8"/>
<circle cx="403.9" cy="925.8" r="2.7" fill="#2b2627" stroke="#000" stroke-width="0.8"/>
<circle cx="395.4" cy="930.4" r="2.7" fill="#2b2627" stroke="#000" stroke-width="0.8"/>
<circle cx="428.8" cy="844.3" r="2.7" fill="#2b2627" stroke="#000" stroke-width="0.8"/>
<circle cx="428.8" cy="877.8" r="2.7" fill="#2b2627" stroke="#000" stroke-width="0.8"/>
<circle cx="433.1" cy="886.2" r="2.7" fill="#2b2627" stroke="#000" stroke-width="0.8"/>
<circle cx="424.4" cy="888.4" r="2.7" fill="#2b2627" stroke="#000" stroke-width="0.8"/>
<circle cx="424.4" cy="903.1" r="2.7" fill="#2b2627" stroke="#000" stroke-width="0.8"/>
<circle cx="433.1" cy="900.9" r="2.7" fill="#2b2627" stroke="#000" stroke-width="0.8"/>
<circle cx="433.1" cy="911.5" r="2.7" fill="#2b2627" stroke="#000" stroke-width="0.8"/>
<circle cx="424.4" cy="915.4" r="2.7" fill="#2b2627" stroke="#000" stroke-width="0.8"/>
<circle cx="458.1" cy="900.9" r="2.7" fill="#2b2627" stroke="#000" stroke-width="0.8"/>
<circle cx="458.1" cy="921.9" r="2.7" fill="#2b2627" stroke="#000" stroke-width="0.8"/>
<circle cx="465.9" cy="921.9" r="2.7" fill="#2b2627" stroke="#000" stroke-width="0.8"/>
<circle cx="450.6" cy="925.8" r="2.7" fill="#2b2627" stroke="#000" stroke-width="0.8"/>
<circle cx="465.9" cy="928.4" r="2.7" fill="#2b2627" stroke="#000" stroke-width="0.8"/>
<circle cx="458.1" cy="929.7" r="2.7" fill="#2b2627" stroke="#000" stroke-width="0.8"/>
<circle cx="450.6" cy="934.3" r="2.7" fill="#2b2627" stroke="#000" stroke-width="0.8"/>
<circle cx="465.9" cy="934.3" r="2.7" fill="#2b2627" stroke="#000" stroke-width="0.8"/>
<path d="M399.5 914.4V919.6M393.8 914.4H405.2M393.8 919.6H405.2" stroke="#000" stroke-width="1.5" fill="none"/>
<path d="M428.8 882.7V899.2M423.1 882.7H434.5M423.1 899.2H434.5" stroke="#000" stroke-width="1.5" fill="none"/>
<path d="M458.2 920.9V926.9M452.5 920.9H463.9M452.5 926.9H463.9" stroke="#000" stroke-width="1.5" fill="none"/>
<path d="M380.3 831.4V978.1H478.4" stroke="#000" stroke-width="1.8" fill="none"/>
<path d="M373.8 978.1H380.3" stroke="#000" stroke-width="1.8"/>
<text x="373.6" y="982.11" text-anchor="end" font-size="11.2" font-weight="bold" fill="#231f20" style="stroke:none">0</text>
<path d="M373.8 948.76H380.3" stroke="#000" stroke-width="1.8"/>
<text x="373.6" y="952.77" text-anchor="end" font-size="11.2" font-weight="bold" fill="#231f20" style="stroke:none">50</text>
<path d="M373.8 919.42H380.3" stroke="#000" stroke-width="1.8"/>
<text x="373.6" y="923.43" text-anchor="end" font-size="11.2" font-weight="bold" fill="#231f20" style="stroke:none">100</text>
<path d="M373.8 890.08H380.3" stroke="#000" stroke-width="1.8"/>
<text x="373.6" y="894.09" text-anchor="end" font-size="11.2" font-weight="bold" fill="#231f20" style="stroke:none">150</text>
<path d="M373.8 860.74H380.3" stroke="#000" stroke-width="1.8"/>
<text x="373.6" y="864.75" text-anchor="end" font-size="11.2" font-weight="bold" fill="#231f20" style="stroke:none">200</text>
<path d="M373.8 831.4H380.3" stroke="#000" stroke-width="1.8"/>
<text x="373.6" y="835.41" text-anchor="end" font-size="11.2" font-weight="bold" fill="#231f20" style="stroke:none">250</text>
<path d="M399.5 978.1V984.6" stroke="#000" stroke-width="1.8"/>
<path d="M428.8 978.1V984.6" stroke="#000" stroke-width="1.8"/>
<path d="M458.2 978.1V984.6" stroke="#000" stroke-width="1.8"/>
<text x="393.6" y="996.8" text-anchor="middle" font-size="11.5" font-weight="bold" fill="#231f20">ff;ff</text>
<text x="406.7" y="996.8" text-anchor="start" font-size="11.5" font-weight="bold" fill="#231f20">Cpt2<tspan font-size="6.2" dy="-3.9" letter-spacing="0.5">L-/-</tspan></text>
<text x="458.6" y="996.8" text-anchor="middle" font-size="11.5" font-weight="bold" fill="#231f20">DKO</text>
<text transform="translate(347.8 907.5) rotate(-90)" text-anchor="middle" font-size="11.7" font-weight="bold" fill="#231f20">cholesterol (mg/dL)</text>
<text x="399.3" y="889.25" text-anchor="middle" font-size="11.3" font-weight="bold" fill="#231f20" style="stroke-width:0.15px">a</text>
<text x="428.8" y="833.15" text-anchor="middle" font-size="11.3" font-weight="bold" fill="#231f20" style="stroke-width:0.15px">b</text>
<text x="458.4" y="893.35" text-anchor="middle" font-size="11.3" font-weight="bold" fill="#231f20" style="stroke-width:0.15px">a</text>
<rect x="547.9" y="884" width="16.6" height="94.1" fill="#ffffff" stroke="#000" stroke-width="1.5"/>
<rect x="577.15" y="966.5" width="16.6" height="11.6" fill="#6ecddd" stroke="#000" stroke-width="1.5"/>
<rect x="606.4" y="960.7" width="16.6" height="17.4" fill="#ec2227" stroke="#000" stroke-width="1.5"/>
<circle cx="556.1" cy="847.6" r="2.7" fill="#2b2627" stroke="#000" stroke-width="0.8"/>
<circle cx="556.1" cy="859.5" r="2.7" fill="#2b2627" stroke="#000" stroke-width="0.8"/>
<circle cx="556.1" cy="864.3" r="2.7" fill="#2b2627" stroke="#000" stroke-width="0.8"/>
<circle cx="556.1" cy="885.1" r="2.7" fill="#2b2627" stroke="#000" stroke-width="0.8"/>
<circle cx="556.1" cy="892.3" r="2.7" fill="#2b2627" stroke="#000" stroke-width="0.8"/>
<circle cx="556.1" cy="897.1" r="2.7" fill="#2b2627" stroke="#000" stroke-width="0.8"/>
<circle cx="560.6" cy="906.7" r="2.7" fill="#2b2627" stroke="#000" stroke-width="0.8"/>
<circle cx="551.8" cy="910.7" r="2.7" fill="#2b2627" stroke="#000" stroke-width="0.8"/>
<circle cx="577.8" cy="965" r="2.7" fill="#2b2627" stroke="#000" stroke-width="0.8"/>
<circle cx="584.9" cy="964.7" r="2.7" fill="#2b2627" stroke="#000" stroke-width="0.8"/>
<circle cx="592.5" cy="965.3" r="2.7" fill="#2b2627" stroke="#000" stroke-width="0.8"/>
<circle cx="577.8" cy="970.3" r="2.7" fill="#2b2627" stroke="#000" stroke-width="0.8"/>
<circle cx="584.9" cy="969" r="2.7" fill="#2b2627" stroke="#000" stroke-width="0.8"/>
<circle cx="592.5" cy="970.6" r="2.7" fill="#2b2627" stroke="#000" stroke-width="0.8"/>
<circle cx="581.3" cy="967.4" r="2.7" fill="#2b2627" stroke="#000" stroke-width="0.8"/>
<circle cx="589.3" cy="967.4" r="2.7" fill="#2b2627" stroke="#000" stroke-width="0.8"/>
<circle cx="614.4" cy="938.6" r="2.7" fill="#2b2627" stroke="#000" stroke-width="0.8"/>
<circle cx="618.9" cy="955.9" r="2.7" fill="#2b2627" stroke="#000" stroke-width="0.8"/>
<circle cx="610.1" cy="959.1" r="2.7" fill="#2b2627" stroke="#000" stroke-width="0.8"/>
<circle cx="614.4" cy="962.6" r="2.7" fill="#2b2627" stroke="#000" stroke-width="0.8"/>
<circle cx="606.6" cy="966.6" r="2.7" fill="#2b2627" stroke="#000" stroke-width="0.8"/>
<circle cx="614.4" cy="966.6" r="2.7" fill="#2b2627" stroke="#000" stroke-width="0.8"/>
<circle cx="622.1" cy="967.7" r="2.7" fill="#2b2627" stroke="#000" stroke-width="0.8"/>
<circle cx="618.1" cy="965" r="2.7" fill="#2b2627" stroke="#000" stroke-width="0.8"/>
<path d="M556.2 874.7V891M550.5 874.7H561.9M550.5 891H561.9" stroke="#000" stroke-width="1.5" fill="none"/>
<path d="M585.45 965V968M579.75 965H591.15M579.75 968H591.15" stroke="#000" stroke-width="1.5" fill="none"/>
<path d="M614.7 956.5V963.9M609 956.5H620.4M609 963.9H620.4" stroke="#000" stroke-width="1.5" fill="none"/>
<path d="M536.4 832.1V978.1H635.6" stroke="#000" stroke-width="1.8" fill="none"/>
<path d="M529.9 978.1H536.4" stroke="#000" stroke-width="1.8"/>
<text x="529.7" y="982.11" text-anchor="end" font-size="11.2" font-weight="bold" fill="#231f20" style="stroke:none">0.0</text>
<path d="M529.9 941.6H536.4" stroke="#000" stroke-width="1.8"/>
<text x="529.7" y="945.61" text-anchor="end" font-size="11.2" font-weight="bold" fill="#231f20" style="stroke:none">0.5</text>
<path d="M529.9 905.1H536.4" stroke="#000" stroke-width="1.8"/>
<text x="529.7" y="909.11" text-anchor="end" font-size="11.2" font-weight="bold" fill="#231f20" style="stroke:none">1.0</text>
<path d="M529.9 868.6H536.4" stroke="#000" stroke-width="1.8"/>
<text x="529.7" y="872.61" text-anchor="end" font-size="11.2" font-weight="bold" fill="#231f20" style="stroke:none">1.5</text>
<path d="M529.9 832.1H536.4" stroke="#000" stroke-width="1.8"/>
<text x="529.7" y="836.11" text-anchor="end" font-size="11.2" font-weight="bold" fill="#231f20" style="stroke:none">2.0</text>
<path d="M556.2 978.1V984.6" stroke="#000" stroke-width="1.8"/>
<path d="M585.45 978.1V984.6" stroke="#000" stroke-width="1.8"/>
<path d="M614.7 978.1V984.6" stroke="#000" stroke-width="1.8"/>
<text x="550.6" y="996.8" text-anchor="middle" font-size="11.5" font-weight="bold" fill="#231f20">ff;ff</text>
<text x="563.75" y="996.8" text-anchor="start" font-size="11.5" font-weight="bold" fill="#231f20">Cpt2<tspan font-size="6.2" dy="-3.9" letter-spacing="0.5">L-/-</tspan></text>
<text x="615.2" y="996.8" text-anchor="middle" font-size="11.5" font-weight="bold" fill="#231f20">DKO</text>
<text transform="translate(505.9 907) rotate(-90)" text-anchor="middle" font-size="11.7" font-weight="bold" fill="#231f20"><tspan font-weight="normal" fill="#666" style="stroke:none">β</tspan>HB (mmol/L)</text>
<text x="556.1" y="833.65" text-anchor="middle" font-size="11.3" font-weight="bold" fill="#231f20" style="stroke-width:0.15px">a</text>
<text x="584.2" y="947.85" text-anchor="middle" font-size="11.3" font-weight="bold" fill="#231f20" style="stroke-width:0.15px">b</text>
<text x="614.4" y="927.95" text-anchor="middle" font-size="11.3" font-weight="bold" fill="#231f20" style="stroke-width:0.15px">b</text>
<text x="0.5" y="25.4" font-size="29" font-weight="bold" fill="#231f20">a</text>
<text x="0.5" y="420.6" font-size="28.5" font-weight="bold" fill="#231f20">b</text>
<text x="0" y="625.7" font-size="29" font-weight="bold" fill="#231f20">c</text>
<text transform="translate(672 101) rotate(-90) scale(0.945 1)" text-anchor="middle" font-size="36.6" font-weight="bold" fill="#231f20">Fed</text>
<text transform="translate(672 275.8) rotate(-90) scale(0.945 1)" text-anchor="middle" font-size="36.6" font-weight="bold" fill="#231f20">Fast</text>
<text transform="translate(672 497.5) rotate(-90) scale(0.945 1)" text-anchor="middle" font-size="36.6" font-weight="bold" fill="#231f20">Fast</text>
<text transform="translate(672 705) rotate(-90) scale(0.945 1)" text-anchor="middle" font-size="36.6" font-weight="bold" fill="#231f20">Fed</text>
<text transform="translate(672 891.8) rotate(-90) scale(0.945 1)" text-anchor="middle" font-size="36.6" font-weight="bold" fill="#231f20">Fast</text>
</svg></body></html>
